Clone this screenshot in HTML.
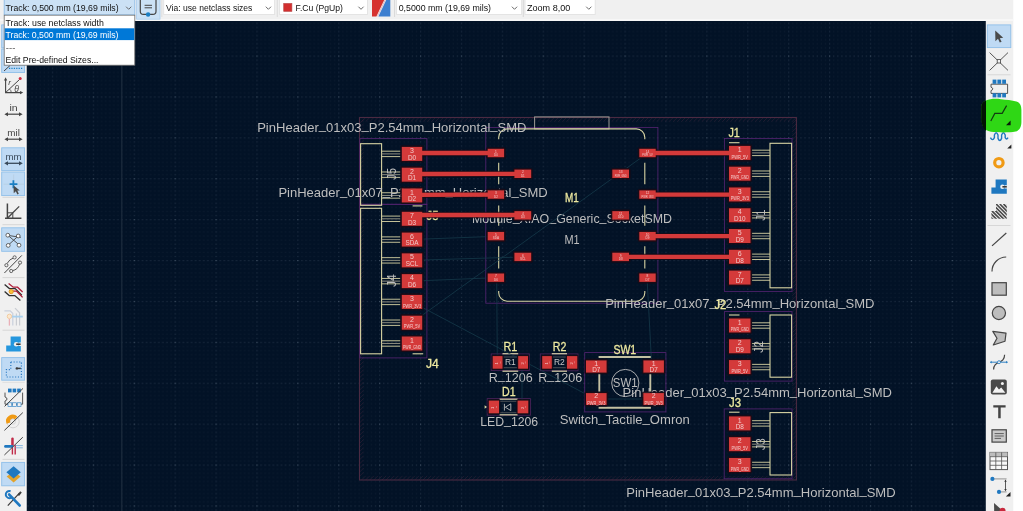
<!DOCTYPE html>
<html lang="en"><head><meta charset="utf-8"><title>PCB Editor</title>
<style>html,body{margin:0;padding:0;background:#fff;overflow:hidden}svg{display:block}text{font-family:"Liberation Sans",sans-serif}</style>
</head><body>
<svg width="1023" height="511" viewBox="0 0 1023 511">
<defs>
<pattern id="grid" x="134.3" y="97" width="40.90" height="40.90" patternUnits="userSpaceOnUse">
<rect x="0.00" y="0.00" width="1.2" height="1.2" fill="#9fb0c4" opacity="0.45"/>
<rect x="0.00" y="4.09" width="1.2" height="1.2" fill="#8a9bb0" opacity="0.2"/>
<rect x="0.00" y="8.18" width="1.2" height="1.2" fill="#8a9bb0" opacity="0.2"/>
<rect x="0.00" y="12.27" width="1.2" height="1.2" fill="#8a9bb0" opacity="0.2"/>
<rect x="0.00" y="16.36" width="1.2" height="1.2" fill="#8a9bb0" opacity="0.2"/>
<rect x="0.00" y="20.45" width="1.2" height="1.2" fill="#8a9bb0" opacity="0.2"/>
<rect x="0.00" y="24.54" width="1.2" height="1.2" fill="#8a9bb0" opacity="0.2"/>
<rect x="0.00" y="28.63" width="1.2" height="1.2" fill="#8a9bb0" opacity="0.2"/>
<rect x="0.00" y="32.72" width="1.2" height="1.2" fill="#8a9bb0" opacity="0.2"/>
<rect x="0.00" y="36.81" width="1.2" height="1.2" fill="#8a9bb0" opacity="0.2"/>
<rect x="4.09" y="0.00" width="1.2" height="1.2" fill="#8a9bb0" opacity="0.2"/>
<rect x="4.09" y="4.09" width="1.2" height="1.2" fill="#7f90a6" opacity="0.075"/>
<rect x="4.09" y="8.18" width="1.2" height="1.2" fill="#7f90a6" opacity="0.075"/>
<rect x="4.09" y="12.27" width="1.2" height="1.2" fill="#7f90a6" opacity="0.075"/>
<rect x="4.09" y="16.36" width="1.2" height="1.2" fill="#7f90a6" opacity="0.075"/>
<rect x="4.09" y="20.45" width="1.2" height="1.2" fill="#7f90a6" opacity="0.075"/>
<rect x="4.09" y="24.54" width="1.2" height="1.2" fill="#7f90a6" opacity="0.075"/>
<rect x="4.09" y="28.63" width="1.2" height="1.2" fill="#7f90a6" opacity="0.075"/>
<rect x="4.09" y="32.72" width="1.2" height="1.2" fill="#7f90a6" opacity="0.075"/>
<rect x="4.09" y="36.81" width="1.2" height="1.2" fill="#7f90a6" opacity="0.075"/>
<rect x="8.18" y="0.00" width="1.2" height="1.2" fill="#8a9bb0" opacity="0.2"/>
<rect x="8.18" y="4.09" width="1.2" height="1.2" fill="#7f90a6" opacity="0.075"/>
<rect x="8.18" y="8.18" width="1.2" height="1.2" fill="#7f90a6" opacity="0.075"/>
<rect x="8.18" y="12.27" width="1.2" height="1.2" fill="#7f90a6" opacity="0.075"/>
<rect x="8.18" y="16.36" width="1.2" height="1.2" fill="#7f90a6" opacity="0.075"/>
<rect x="8.18" y="20.45" width="1.2" height="1.2" fill="#7f90a6" opacity="0.075"/>
<rect x="8.18" y="24.54" width="1.2" height="1.2" fill="#7f90a6" opacity="0.075"/>
<rect x="8.18" y="28.63" width="1.2" height="1.2" fill="#7f90a6" opacity="0.075"/>
<rect x="8.18" y="32.72" width="1.2" height="1.2" fill="#7f90a6" opacity="0.075"/>
<rect x="8.18" y="36.81" width="1.2" height="1.2" fill="#7f90a6" opacity="0.075"/>
<rect x="12.27" y="0.00" width="1.2" height="1.2" fill="#8a9bb0" opacity="0.2"/>
<rect x="12.27" y="4.09" width="1.2" height="1.2" fill="#7f90a6" opacity="0.075"/>
<rect x="12.27" y="8.18" width="1.2" height="1.2" fill="#7f90a6" opacity="0.075"/>
<rect x="12.27" y="12.27" width="1.2" height="1.2" fill="#7f90a6" opacity="0.075"/>
<rect x="12.27" y="16.36" width="1.2" height="1.2" fill="#7f90a6" opacity="0.075"/>
<rect x="12.27" y="20.45" width="1.2" height="1.2" fill="#7f90a6" opacity="0.075"/>
<rect x="12.27" y="24.54" width="1.2" height="1.2" fill="#7f90a6" opacity="0.075"/>
<rect x="12.27" y="28.63" width="1.2" height="1.2" fill="#7f90a6" opacity="0.075"/>
<rect x="12.27" y="32.72" width="1.2" height="1.2" fill="#7f90a6" opacity="0.075"/>
<rect x="12.27" y="36.81" width="1.2" height="1.2" fill="#7f90a6" opacity="0.075"/>
<rect x="16.36" y="0.00" width="1.2" height="1.2" fill="#8a9bb0" opacity="0.2"/>
<rect x="16.36" y="4.09" width="1.2" height="1.2" fill="#7f90a6" opacity="0.075"/>
<rect x="16.36" y="8.18" width="1.2" height="1.2" fill="#7f90a6" opacity="0.075"/>
<rect x="16.36" y="12.27" width="1.2" height="1.2" fill="#7f90a6" opacity="0.075"/>
<rect x="16.36" y="16.36" width="1.2" height="1.2" fill="#7f90a6" opacity="0.075"/>
<rect x="16.36" y="20.45" width="1.2" height="1.2" fill="#7f90a6" opacity="0.075"/>
<rect x="16.36" y="24.54" width="1.2" height="1.2" fill="#7f90a6" opacity="0.075"/>
<rect x="16.36" y="28.63" width="1.2" height="1.2" fill="#7f90a6" opacity="0.075"/>
<rect x="16.36" y="32.72" width="1.2" height="1.2" fill="#7f90a6" opacity="0.075"/>
<rect x="16.36" y="36.81" width="1.2" height="1.2" fill="#7f90a6" opacity="0.075"/>
<rect x="20.45" y="0.00" width="1.2" height="1.2" fill="#8a9bb0" opacity="0.2"/>
<rect x="20.45" y="4.09" width="1.2" height="1.2" fill="#7f90a6" opacity="0.075"/>
<rect x="20.45" y="8.18" width="1.2" height="1.2" fill="#7f90a6" opacity="0.075"/>
<rect x="20.45" y="12.27" width="1.2" height="1.2" fill="#7f90a6" opacity="0.075"/>
<rect x="20.45" y="16.36" width="1.2" height="1.2" fill="#7f90a6" opacity="0.075"/>
<rect x="20.45" y="20.45" width="1.2" height="1.2" fill="#7f90a6" opacity="0.075"/>
<rect x="20.45" y="24.54" width="1.2" height="1.2" fill="#7f90a6" opacity="0.075"/>
<rect x="20.45" y="28.63" width="1.2" height="1.2" fill="#7f90a6" opacity="0.075"/>
<rect x="20.45" y="32.72" width="1.2" height="1.2" fill="#7f90a6" opacity="0.075"/>
<rect x="20.45" y="36.81" width="1.2" height="1.2" fill="#7f90a6" opacity="0.075"/>
<rect x="24.54" y="0.00" width="1.2" height="1.2" fill="#8a9bb0" opacity="0.2"/>
<rect x="24.54" y="4.09" width="1.2" height="1.2" fill="#7f90a6" opacity="0.075"/>
<rect x="24.54" y="8.18" width="1.2" height="1.2" fill="#7f90a6" opacity="0.075"/>
<rect x="24.54" y="12.27" width="1.2" height="1.2" fill="#7f90a6" opacity="0.075"/>
<rect x="24.54" y="16.36" width="1.2" height="1.2" fill="#7f90a6" opacity="0.075"/>
<rect x="24.54" y="20.45" width="1.2" height="1.2" fill="#7f90a6" opacity="0.075"/>
<rect x="24.54" y="24.54" width="1.2" height="1.2" fill="#7f90a6" opacity="0.075"/>
<rect x="24.54" y="28.63" width="1.2" height="1.2" fill="#7f90a6" opacity="0.075"/>
<rect x="24.54" y="32.72" width="1.2" height="1.2" fill="#7f90a6" opacity="0.075"/>
<rect x="24.54" y="36.81" width="1.2" height="1.2" fill="#7f90a6" opacity="0.075"/>
<rect x="28.63" y="0.00" width="1.2" height="1.2" fill="#8a9bb0" opacity="0.2"/>
<rect x="28.63" y="4.09" width="1.2" height="1.2" fill="#7f90a6" opacity="0.075"/>
<rect x="28.63" y="8.18" width="1.2" height="1.2" fill="#7f90a6" opacity="0.075"/>
<rect x="28.63" y="12.27" width="1.2" height="1.2" fill="#7f90a6" opacity="0.075"/>
<rect x="28.63" y="16.36" width="1.2" height="1.2" fill="#7f90a6" opacity="0.075"/>
<rect x="28.63" y="20.45" width="1.2" height="1.2" fill="#7f90a6" opacity="0.075"/>
<rect x="28.63" y="24.54" width="1.2" height="1.2" fill="#7f90a6" opacity="0.075"/>
<rect x="28.63" y="28.63" width="1.2" height="1.2" fill="#7f90a6" opacity="0.075"/>
<rect x="28.63" y="32.72" width="1.2" height="1.2" fill="#7f90a6" opacity="0.075"/>
<rect x="28.63" y="36.81" width="1.2" height="1.2" fill="#7f90a6" opacity="0.075"/>
<rect x="32.72" y="0.00" width="1.2" height="1.2" fill="#8a9bb0" opacity="0.2"/>
<rect x="32.72" y="4.09" width="1.2" height="1.2" fill="#7f90a6" opacity="0.075"/>
<rect x="32.72" y="8.18" width="1.2" height="1.2" fill="#7f90a6" opacity="0.075"/>
<rect x="32.72" y="12.27" width="1.2" height="1.2" fill="#7f90a6" opacity="0.075"/>
<rect x="32.72" y="16.36" width="1.2" height="1.2" fill="#7f90a6" opacity="0.075"/>
<rect x="32.72" y="20.45" width="1.2" height="1.2" fill="#7f90a6" opacity="0.075"/>
<rect x="32.72" y="24.54" width="1.2" height="1.2" fill="#7f90a6" opacity="0.075"/>
<rect x="32.72" y="28.63" width="1.2" height="1.2" fill="#7f90a6" opacity="0.075"/>
<rect x="32.72" y="32.72" width="1.2" height="1.2" fill="#7f90a6" opacity="0.075"/>
<rect x="32.72" y="36.81" width="1.2" height="1.2" fill="#7f90a6" opacity="0.075"/>
<rect x="36.81" y="0.00" width="1.2" height="1.2" fill="#8a9bb0" opacity="0.2"/>
<rect x="36.81" y="4.09" width="1.2" height="1.2" fill="#7f90a6" opacity="0.075"/>
<rect x="36.81" y="8.18" width="1.2" height="1.2" fill="#7f90a6" opacity="0.075"/>
<rect x="36.81" y="12.27" width="1.2" height="1.2" fill="#7f90a6" opacity="0.075"/>
<rect x="36.81" y="16.36" width="1.2" height="1.2" fill="#7f90a6" opacity="0.075"/>
<rect x="36.81" y="20.45" width="1.2" height="1.2" fill="#7f90a6" opacity="0.075"/>
<rect x="36.81" y="24.54" width="1.2" height="1.2" fill="#7f90a6" opacity="0.075"/>
<rect x="36.81" y="28.63" width="1.2" height="1.2" fill="#7f90a6" opacity="0.075"/>
<rect x="36.81" y="32.72" width="1.2" height="1.2" fill="#7f90a6" opacity="0.075"/>
<rect x="36.81" y="36.81" width="1.2" height="1.2" fill="#7f90a6" opacity="0.075"/>
</pattern>
<mask id="mk" maskUnits="userSpaceOnUse" x="0" y="0" width="1023" height="511"><rect x="0" y="0" width="1023" height="511" fill="#fff"/></mask>
<clipPath id="all"><rect x="0" y="0" width="1023" height="511"/></clipPath>
<clipPath id="cv"><rect x="27" y="21" width="959" height="490"/></clipPath>
</defs>
<rect x="0.00" y="0.00" width="1023.00" height="511.00" fill="#ffffff" />
<rect x="0.00" y="0.00" width="1013.30" height="21.00" fill="#f0f0f0" />
<rect x="0.00" y="19.00" width="1013.30" height="2.00" fill="#f7f7f7" />
<rect x="0.00" y="21.00" width="26.50" height="490.00" fill="#f0f0f0" />
<rect x="985.80" y="21.00" width="27.50" height="490.00" fill="#f0f0f0" />
<rect x="26.50" y="21.00" width="959.30" height="490.00" fill="#021226" />
<rect x="27.1" y="21.6" width="958.7" height="490" fill="url(#grid)" transform="translate(-0.6,-0.6)"/>
<g clip-path="url(#cv)" mask="url(#mk)">
<line x1="121.80" y1="21.00" x2="121.80" y2="511.00" stroke="#1c2b3d" stroke-width="1.3" />
<rect x="359.50" y="117.50" width="436.90" height="362.50" fill="none" stroke="#4b2a42" stroke-width="1.1" />
<path d="M361.5,121.7l4.2,-4.2M361.5,480.0l4.2,-4.2M365.6,121.7l4.2,-4.2M365.6,480.0l4.2,-4.2M369.7,121.7l4.2,-4.2M369.7,480.0l4.2,-4.2M373.8,121.7l4.2,-4.2M373.8,480.0l4.2,-4.2M377.9,121.7l4.2,-4.2M377.9,480.0l4.2,-4.2M382.0,121.7l4.2,-4.2M382.0,480.0l4.2,-4.2M386.1,121.7l4.2,-4.2M386.1,480.0l4.2,-4.2M390.2,121.7l4.2,-4.2M390.2,480.0l4.2,-4.2M394.3,121.7l4.2,-4.2M394.3,480.0l4.2,-4.2M398.4,121.7l4.2,-4.2M398.4,480.0l4.2,-4.2M402.5,121.7l4.2,-4.2M402.5,480.0l4.2,-4.2M406.6,121.7l4.2,-4.2M406.6,480.0l4.2,-4.2M410.7,121.7l4.2,-4.2M410.7,480.0l4.2,-4.2M414.8,121.7l4.2,-4.2M414.8,480.0l4.2,-4.2M418.9,121.7l4.2,-4.2M418.9,480.0l4.2,-4.2M423.0,121.7l4.2,-4.2M423.0,480.0l4.2,-4.2M427.1,121.7l4.2,-4.2M427.1,480.0l4.2,-4.2M431.2,121.7l4.2,-4.2M431.2,480.0l4.2,-4.2M435.3,121.7l4.2,-4.2M435.3,480.0l4.2,-4.2M439.4,121.7l4.2,-4.2M439.4,480.0l4.2,-4.2M443.5,121.7l4.2,-4.2M443.5,480.0l4.2,-4.2M447.6,121.7l4.2,-4.2M447.6,480.0l4.2,-4.2M451.7,121.7l4.2,-4.2M451.7,480.0l4.2,-4.2M455.8,121.7l4.2,-4.2M455.8,480.0l4.2,-4.2M459.9,121.7l4.2,-4.2M459.9,480.0l4.2,-4.2M464.0,121.7l4.2,-4.2M464.0,480.0l4.2,-4.2M468.1,121.7l4.2,-4.2M468.1,480.0l4.2,-4.2M472.2,121.7l4.2,-4.2M472.2,480.0l4.2,-4.2M476.3,121.7l4.2,-4.2M476.3,480.0l4.2,-4.2M480.4,121.7l4.2,-4.2M480.4,480.0l4.2,-4.2M484.5,121.7l4.2,-4.2M484.5,480.0l4.2,-4.2M488.6,121.7l4.2,-4.2M488.6,480.0l4.2,-4.2M492.7,121.7l4.2,-4.2M492.7,480.0l4.2,-4.2M496.8,121.7l4.2,-4.2M496.8,480.0l4.2,-4.2M500.9,121.7l4.2,-4.2M500.9,480.0l4.2,-4.2M505.0,121.7l4.2,-4.2M505.0,480.0l4.2,-4.2M509.1,121.7l4.2,-4.2M509.1,480.0l4.2,-4.2M513.2,121.7l4.2,-4.2M513.2,480.0l4.2,-4.2M517.3,121.7l4.2,-4.2M517.3,480.0l4.2,-4.2M521.4,121.7l4.2,-4.2M521.4,480.0l4.2,-4.2M525.5,121.7l4.2,-4.2M525.5,480.0l4.2,-4.2M529.6,121.7l4.2,-4.2M529.6,480.0l4.2,-4.2M533.7,121.7l4.2,-4.2M533.7,480.0l4.2,-4.2M537.8,121.7l4.2,-4.2M537.8,480.0l4.2,-4.2M541.9,121.7l4.2,-4.2M541.9,480.0l4.2,-4.2M546.0,121.7l4.2,-4.2M546.0,480.0l4.2,-4.2M550.1,121.7l4.2,-4.2M550.1,480.0l4.2,-4.2M554.2,121.7l4.2,-4.2M554.2,480.0l4.2,-4.2M558.3,121.7l4.2,-4.2M558.3,480.0l4.2,-4.2M562.4,121.7l4.2,-4.2M562.4,480.0l4.2,-4.2M566.5,121.7l4.2,-4.2M566.5,480.0l4.2,-4.2M570.6,121.7l4.2,-4.2M570.6,480.0l4.2,-4.2M574.7,121.7l4.2,-4.2M574.7,480.0l4.2,-4.2M578.8,121.7l4.2,-4.2M578.8,480.0l4.2,-4.2M582.9,121.7l4.2,-4.2M582.9,480.0l4.2,-4.2M587.0,121.7l4.2,-4.2M587.0,480.0l4.2,-4.2M591.1,121.7l4.2,-4.2M591.1,480.0l4.2,-4.2M595.2,121.7l4.2,-4.2M595.2,480.0l4.2,-4.2M599.3,121.7l4.2,-4.2M599.3,480.0l4.2,-4.2M603.4,121.7l4.2,-4.2M603.4,480.0l4.2,-4.2M607.5,121.7l4.2,-4.2M607.5,480.0l4.2,-4.2M611.6,121.7l4.2,-4.2M611.6,480.0l4.2,-4.2M615.7,121.7l4.2,-4.2M615.7,480.0l4.2,-4.2M619.8,121.7l4.2,-4.2M619.8,480.0l4.2,-4.2M623.9,121.7l4.2,-4.2M623.9,480.0l4.2,-4.2M628.0,121.7l4.2,-4.2M628.0,480.0l4.2,-4.2M632.1,121.7l4.2,-4.2M632.1,480.0l4.2,-4.2M636.2,121.7l4.2,-4.2M636.2,480.0l4.2,-4.2M640.3,121.7l4.2,-4.2M640.3,480.0l4.2,-4.2M644.4,121.7l4.2,-4.2M644.4,480.0l4.2,-4.2M648.5,121.7l4.2,-4.2M648.5,480.0l4.2,-4.2M652.6,121.7l4.2,-4.2M652.6,480.0l4.2,-4.2M656.7,121.7l4.2,-4.2M656.7,480.0l4.2,-4.2M660.8,121.7l4.2,-4.2M660.8,480.0l4.2,-4.2M664.9,121.7l4.2,-4.2M664.9,480.0l4.2,-4.2M669.0,121.7l4.2,-4.2M669.0,480.0l4.2,-4.2M673.1,121.7l4.2,-4.2M673.1,480.0l4.2,-4.2M677.2,121.7l4.2,-4.2M677.2,480.0l4.2,-4.2M681.3,121.7l4.2,-4.2M681.3,480.0l4.2,-4.2M685.4,121.7l4.2,-4.2M685.4,480.0l4.2,-4.2M689.5,121.7l4.2,-4.2M689.5,480.0l4.2,-4.2M693.6,121.7l4.2,-4.2M693.6,480.0l4.2,-4.2M697.7,121.7l4.2,-4.2M697.7,480.0l4.2,-4.2M701.8,121.7l4.2,-4.2M701.8,480.0l4.2,-4.2M705.9,121.7l4.2,-4.2M705.9,480.0l4.2,-4.2M710.0,121.7l4.2,-4.2M710.0,480.0l4.2,-4.2M714.1,121.7l4.2,-4.2M714.1,480.0l4.2,-4.2M718.2,121.7l4.2,-4.2M718.2,480.0l4.2,-4.2M722.3,121.7l4.2,-4.2M722.3,480.0l4.2,-4.2M726.4,121.7l4.2,-4.2M726.4,480.0l4.2,-4.2M730.5,121.7l4.2,-4.2M730.5,480.0l4.2,-4.2M734.6,121.7l4.2,-4.2M734.6,480.0l4.2,-4.2M738.7,121.7l4.2,-4.2M738.7,480.0l4.2,-4.2M742.8,121.7l4.2,-4.2M742.8,480.0l4.2,-4.2M746.9,121.7l4.2,-4.2M746.9,480.0l4.2,-4.2M751.0,121.7l4.2,-4.2M751.0,480.0l4.2,-4.2M755.1,121.7l4.2,-4.2M755.1,480.0l4.2,-4.2M759.2,121.7l4.2,-4.2M759.2,480.0l4.2,-4.2M763.3,121.7l4.2,-4.2M763.3,480.0l4.2,-4.2M767.4,121.7l4.2,-4.2M767.4,480.0l4.2,-4.2M771.5,121.7l4.2,-4.2M771.5,480.0l4.2,-4.2M775.6,121.7l4.2,-4.2M775.6,480.0l4.2,-4.2M779.7,121.7l4.2,-4.2M779.7,480.0l4.2,-4.2M783.8,121.7l4.2,-4.2M783.8,480.0l4.2,-4.2M787.9,121.7l4.2,-4.2M787.9,480.0l4.2,-4.2M792.0,121.7l4.2,-4.2M792.0,480.0l4.2,-4.2M359.5,123.7l4.2,-4.2M792.2,123.7l4.2,-4.2M359.5,127.8l4.2,-4.2M792.2,127.8l4.2,-4.2M359.5,131.9l4.2,-4.2M792.2,131.9l4.2,-4.2M359.5,136.0l4.2,-4.2M792.2,136.0l4.2,-4.2M359.5,140.1l4.2,-4.2M792.2,140.1l4.2,-4.2M359.5,144.2l4.2,-4.2M792.2,144.2l4.2,-4.2M359.5,148.3l4.2,-4.2M792.2,148.3l4.2,-4.2M359.5,152.4l4.2,-4.2M792.2,152.4l4.2,-4.2M359.5,156.5l4.2,-4.2M792.2,156.5l4.2,-4.2M359.5,160.6l4.2,-4.2M792.2,160.6l4.2,-4.2M359.5,164.7l4.2,-4.2M792.2,164.7l4.2,-4.2M359.5,168.8l4.2,-4.2M792.2,168.8l4.2,-4.2M359.5,172.9l4.2,-4.2M792.2,172.9l4.2,-4.2M359.5,177.0l4.2,-4.2M792.2,177.0l4.2,-4.2M359.5,181.1l4.2,-4.2M792.2,181.1l4.2,-4.2M359.5,185.2l4.2,-4.2M792.2,185.2l4.2,-4.2M359.5,189.3l4.2,-4.2M792.2,189.3l4.2,-4.2M359.5,193.4l4.2,-4.2M792.2,193.4l4.2,-4.2M359.5,197.5l4.2,-4.2M792.2,197.5l4.2,-4.2M359.5,201.6l4.2,-4.2M792.2,201.6l4.2,-4.2M359.5,205.7l4.2,-4.2M792.2,205.7l4.2,-4.2M359.5,209.8l4.2,-4.2M792.2,209.8l4.2,-4.2M359.5,213.9l4.2,-4.2M792.2,213.9l4.2,-4.2M359.5,218.0l4.2,-4.2M792.2,218.0l4.2,-4.2M359.5,222.1l4.2,-4.2M792.2,222.1l4.2,-4.2M359.5,226.2l4.2,-4.2M792.2,226.2l4.2,-4.2M359.5,230.3l4.2,-4.2M792.2,230.3l4.2,-4.2M359.5,234.4l4.2,-4.2M792.2,234.4l4.2,-4.2M359.5,238.5l4.2,-4.2M792.2,238.5l4.2,-4.2M359.5,242.6l4.2,-4.2M792.2,242.6l4.2,-4.2M359.5,246.7l4.2,-4.2M792.2,246.7l4.2,-4.2M359.5,250.8l4.2,-4.2M792.2,250.8l4.2,-4.2M359.5,254.9l4.2,-4.2M792.2,254.9l4.2,-4.2M359.5,259.0l4.2,-4.2M792.2,259.0l4.2,-4.2M359.5,263.1l4.2,-4.2M792.2,263.1l4.2,-4.2M359.5,267.2l4.2,-4.2M792.2,267.2l4.2,-4.2M359.5,271.3l4.2,-4.2M792.2,271.3l4.2,-4.2M359.5,275.4l4.2,-4.2M792.2,275.4l4.2,-4.2M359.5,279.5l4.2,-4.2M792.2,279.5l4.2,-4.2M359.5,283.6l4.2,-4.2M792.2,283.6l4.2,-4.2M359.5,287.7l4.2,-4.2M792.2,287.7l4.2,-4.2M359.5,291.8l4.2,-4.2M792.2,291.8l4.2,-4.2M359.5,295.9l4.2,-4.2M792.2,295.9l4.2,-4.2M359.5,300.0l4.2,-4.2M792.2,300.0l4.2,-4.2M359.5,304.1l4.2,-4.2M792.2,304.1l4.2,-4.2M359.5,308.2l4.2,-4.2M792.2,308.2l4.2,-4.2M359.5,312.3l4.2,-4.2M792.2,312.3l4.2,-4.2M359.5,316.4l4.2,-4.2M792.2,316.4l4.2,-4.2M359.5,320.5l4.2,-4.2M792.2,320.5l4.2,-4.2M359.5,324.6l4.2,-4.2M792.2,324.6l4.2,-4.2M359.5,328.7l4.2,-4.2M792.2,328.7l4.2,-4.2M359.5,332.8l4.2,-4.2M792.2,332.8l4.2,-4.2M359.5,336.9l4.2,-4.2M792.2,336.9l4.2,-4.2M359.5,341.0l4.2,-4.2M792.2,341.0l4.2,-4.2M359.5,345.1l4.2,-4.2M792.2,345.1l4.2,-4.2M359.5,349.2l4.2,-4.2M792.2,349.2l4.2,-4.2M359.5,353.3l4.2,-4.2M792.2,353.3l4.2,-4.2M359.5,357.4l4.2,-4.2M792.2,357.4l4.2,-4.2M359.5,361.5l4.2,-4.2M792.2,361.5l4.2,-4.2M359.5,365.6l4.2,-4.2M792.2,365.6l4.2,-4.2M359.5,369.7l4.2,-4.2M792.2,369.7l4.2,-4.2M359.5,373.8l4.2,-4.2M792.2,373.8l4.2,-4.2M359.5,377.9l4.2,-4.2M792.2,377.9l4.2,-4.2M359.5,382.0l4.2,-4.2M792.2,382.0l4.2,-4.2M359.5,386.1l4.2,-4.2M792.2,386.1l4.2,-4.2M359.5,390.2l4.2,-4.2M792.2,390.2l4.2,-4.2M359.5,394.3l4.2,-4.2M792.2,394.3l4.2,-4.2M359.5,398.4l4.2,-4.2M792.2,398.4l4.2,-4.2M359.5,402.5l4.2,-4.2M792.2,402.5l4.2,-4.2M359.5,406.6l4.2,-4.2M792.2,406.6l4.2,-4.2M359.5,410.7l4.2,-4.2M792.2,410.7l4.2,-4.2M359.5,414.8l4.2,-4.2M792.2,414.8l4.2,-4.2M359.5,418.9l4.2,-4.2M792.2,418.9l4.2,-4.2M359.5,423.0l4.2,-4.2M792.2,423.0l4.2,-4.2M359.5,427.1l4.2,-4.2M792.2,427.1l4.2,-4.2M359.5,431.2l4.2,-4.2M792.2,431.2l4.2,-4.2M359.5,435.3l4.2,-4.2M792.2,435.3l4.2,-4.2M359.5,439.4l4.2,-4.2M792.2,439.4l4.2,-4.2M359.5,443.5l4.2,-4.2M792.2,443.5l4.2,-4.2M359.5,447.6l4.2,-4.2M792.2,447.6l4.2,-4.2M359.5,451.7l4.2,-4.2M792.2,451.7l4.2,-4.2M359.5,455.8l4.2,-4.2M792.2,455.8l4.2,-4.2M359.5,459.9l4.2,-4.2M792.2,459.9l4.2,-4.2M359.5,464.0l4.2,-4.2M792.2,464.0l4.2,-4.2M359.5,468.1l4.2,-4.2M792.2,468.1l4.2,-4.2M359.5,472.2l4.2,-4.2M792.2,472.2l4.2,-4.2M359.5,476.3l4.2,-4.2M792.2,476.3l4.2,-4.2" stroke="#4b2a42" stroke-width="0.7" fill="none" opacity="0.55"/>
<rect x="359.80" y="138.60" width="67.10" height="65.70" fill="none" stroke="#52236f" stroke-width="0.85" />
<rect x="359.80" y="204.30" width="67.10" height="153.60" fill="none" stroke="#52236f" stroke-width="0.85" />
<rect x="485.80" y="127.40" width="172.10" height="175.80" fill="none" stroke="#52236f" stroke-width="0.85" />
<rect x="724.40" y="138.40" width="67.60" height="153.00" fill="none" stroke="#52236f" stroke-width="0.85" />
<rect x="724.40" y="311.60" width="67.60" height="69.50" fill="none" stroke="#52236f" stroke-width="0.85" />
<rect x="724.20" y="408.90" width="67.80" height="69.90" fill="none" stroke="#52236f" stroke-width="0.85" />
<rect x="491.20" y="353.90" width="38.10" height="16.70" fill="none" stroke="#4a2158" stroke-width="0.85" />
<rect x="540.30" y="353.90" width="37.70" height="16.90" fill="none" stroke="#4a2158" stroke-width="0.85" />
<rect x="487.20" y="398.60" width="43.30" height="16.60" fill="none" stroke="#4a2158" stroke-width="0.85" />
<rect x="584.70" y="352.60" width="81.20" height="59.30" fill="none" stroke="#52236f" stroke-width="0.85" />
<rect x="534.60" y="116.90" width="74.40" height="12.00" fill="none" stroke="#9d9a94" stroke-width="1.0" />
<rect x="360.60" y="143.70" width="21.00" height="61.60" fill="none" stroke="#d9d5a4" stroke-width="1.1" />
<line x1="381.60" y1="151.20" x2="400.60" y2="151.20" stroke="#d9d5a4" stroke-width="0.9" />
<line x1="381.60" y1="153.90" x2="400.60" y2="153.90" stroke="#9c9a88" stroke-width="0.9" />
<line x1="381.60" y1="156.60" x2="400.60" y2="156.60" stroke="#d9d5a4" stroke-width="0.9" />
<line x1="381.60" y1="171.98" x2="400.60" y2="171.98" stroke="#d9d5a4" stroke-width="0.9" />
<line x1="381.60" y1="174.68" x2="400.60" y2="174.68" stroke="#9c9a88" stroke-width="0.9" />
<line x1="381.60" y1="177.38" x2="400.60" y2="177.38" stroke="#d9d5a4" stroke-width="0.9" />
<line x1="381.60" y1="192.76" x2="400.60" y2="192.76" stroke="#d9d5a4" stroke-width="0.9" />
<line x1="381.60" y1="195.46" x2="400.60" y2="195.46" stroke="#9c9a88" stroke-width="0.9" />
<line x1="381.60" y1="198.16" x2="400.60" y2="198.16" stroke="#d9d5a4" stroke-width="0.9" />
<rect x="360.60" y="208.30" width="21.00" height="145.50" fill="none" stroke="#d9d5a4" stroke-width="1.1" />
<line x1="381.60" y1="216.10" x2="400.60" y2="216.10" stroke="#d9d5a4" stroke-width="0.9" />
<line x1="381.60" y1="218.80" x2="400.60" y2="218.80" stroke="#9c9a88" stroke-width="0.9" />
<line x1="381.60" y1="221.50" x2="400.60" y2="221.50" stroke="#d9d5a4" stroke-width="0.9" />
<line x1="381.60" y1="236.88" x2="400.60" y2="236.88" stroke="#d9d5a4" stroke-width="0.9" />
<line x1="381.60" y1="239.58" x2="400.60" y2="239.58" stroke="#9c9a88" stroke-width="0.9" />
<line x1="381.60" y1="242.28" x2="400.60" y2="242.28" stroke="#d9d5a4" stroke-width="0.9" />
<line x1="381.60" y1="257.66" x2="400.60" y2="257.66" stroke="#d9d5a4" stroke-width="0.9" />
<line x1="381.60" y1="260.36" x2="400.60" y2="260.36" stroke="#9c9a88" stroke-width="0.9" />
<line x1="381.60" y1="263.06" x2="400.60" y2="263.06" stroke="#d9d5a4" stroke-width="0.9" />
<line x1="381.60" y1="278.44" x2="400.60" y2="278.44" stroke="#d9d5a4" stroke-width="0.9" />
<line x1="381.60" y1="281.14" x2="400.60" y2="281.14" stroke="#9c9a88" stroke-width="0.9" />
<line x1="381.60" y1="283.84" x2="400.60" y2="283.84" stroke="#d9d5a4" stroke-width="0.9" />
<line x1="381.60" y1="299.22" x2="400.60" y2="299.22" stroke="#d9d5a4" stroke-width="0.9" />
<line x1="381.60" y1="301.92" x2="400.60" y2="301.92" stroke="#9c9a88" stroke-width="0.9" />
<line x1="381.60" y1="304.62" x2="400.60" y2="304.62" stroke="#d9d5a4" stroke-width="0.9" />
<line x1="381.60" y1="320.00" x2="400.60" y2="320.00" stroke="#d9d5a4" stroke-width="0.9" />
<line x1="381.60" y1="322.70" x2="400.60" y2="322.70" stroke="#9c9a88" stroke-width="0.9" />
<line x1="381.60" y1="325.40" x2="400.60" y2="325.40" stroke="#d9d5a4" stroke-width="0.9" />
<line x1="381.60" y1="340.78" x2="400.60" y2="340.78" stroke="#d9d5a4" stroke-width="0.9" />
<line x1="381.60" y1="343.48" x2="400.60" y2="343.48" stroke="#9c9a88" stroke-width="0.9" />
<line x1="381.60" y1="346.18" x2="400.60" y2="346.18" stroke="#d9d5a4" stroke-width="0.9" />
<line x1="412.60" y1="205.90" x2="422.40" y2="205.90" stroke="#d9d5a4" stroke-width="1.1" />
<line x1="412.60" y1="353.80" x2="423.20" y2="353.80" stroke="#d9d5a4" stroke-width="1.1" />
<rect x="770.00" y="143.30" width="21.60" height="144.50" fill="none" stroke="#d9d5a4" stroke-width="1.1" />
<line x1="751.70" y1="150.20" x2="770.00" y2="150.20" stroke="#d9d5a4" stroke-width="0.9" />
<line x1="751.70" y1="152.90" x2="770.00" y2="152.90" stroke="#9c9a88" stroke-width="0.9" />
<line x1="751.70" y1="155.60" x2="770.00" y2="155.60" stroke="#d9d5a4" stroke-width="0.9" />
<line x1="751.70" y1="170.98" x2="770.00" y2="170.98" stroke="#d9d5a4" stroke-width="0.9" />
<line x1="751.70" y1="173.68" x2="770.00" y2="173.68" stroke="#9c9a88" stroke-width="0.9" />
<line x1="751.70" y1="176.38" x2="770.00" y2="176.38" stroke="#d9d5a4" stroke-width="0.9" />
<line x1="751.70" y1="191.76" x2="770.00" y2="191.76" stroke="#d9d5a4" stroke-width="0.9" />
<line x1="751.70" y1="194.46" x2="770.00" y2="194.46" stroke="#9c9a88" stroke-width="0.9" />
<line x1="751.70" y1="197.16" x2="770.00" y2="197.16" stroke="#d9d5a4" stroke-width="0.9" />
<line x1="751.70" y1="212.54" x2="770.00" y2="212.54" stroke="#d9d5a4" stroke-width="0.9" />
<line x1="751.70" y1="215.24" x2="770.00" y2="215.24" stroke="#9c9a88" stroke-width="0.9" />
<line x1="751.70" y1="217.94" x2="770.00" y2="217.94" stroke="#d9d5a4" stroke-width="0.9" />
<line x1="751.70" y1="233.32" x2="770.00" y2="233.32" stroke="#d9d5a4" stroke-width="0.9" />
<line x1="751.70" y1="236.02" x2="770.00" y2="236.02" stroke="#9c9a88" stroke-width="0.9" />
<line x1="751.70" y1="238.72" x2="770.00" y2="238.72" stroke="#d9d5a4" stroke-width="0.9" />
<line x1="751.70" y1="254.10" x2="770.00" y2="254.10" stroke="#d9d5a4" stroke-width="0.9" />
<line x1="751.70" y1="256.80" x2="770.00" y2="256.80" stroke="#9c9a88" stroke-width="0.9" />
<line x1="751.70" y1="259.50" x2="770.00" y2="259.50" stroke="#d9d5a4" stroke-width="0.9" />
<line x1="751.70" y1="274.88" x2="770.00" y2="274.88" stroke="#d9d5a4" stroke-width="0.9" />
<line x1="751.70" y1="277.58" x2="770.00" y2="277.58" stroke="#9c9a88" stroke-width="0.9" />
<line x1="751.70" y1="280.28" x2="770.00" y2="280.28" stroke="#d9d5a4" stroke-width="0.9" />
<rect x="770.00" y="315.00" width="21.60" height="62.20" fill="none" stroke="#d9d5a4" stroke-width="1.1" />
<line x1="751.70" y1="322.80" x2="770.00" y2="322.80" stroke="#d9d5a4" stroke-width="0.9" />
<line x1="751.70" y1="325.50" x2="770.00" y2="325.50" stroke="#9c9a88" stroke-width="0.9" />
<line x1="751.70" y1="328.20" x2="770.00" y2="328.20" stroke="#d9d5a4" stroke-width="0.9" />
<line x1="751.70" y1="343.58" x2="770.00" y2="343.58" stroke="#d9d5a4" stroke-width="0.9" />
<line x1="751.70" y1="346.28" x2="770.00" y2="346.28" stroke="#9c9a88" stroke-width="0.9" />
<line x1="751.70" y1="348.98" x2="770.00" y2="348.98" stroke="#d9d5a4" stroke-width="0.9" />
<line x1="751.70" y1="364.36" x2="770.00" y2="364.36" stroke="#d9d5a4" stroke-width="0.9" />
<line x1="751.70" y1="367.06" x2="770.00" y2="367.06" stroke="#9c9a88" stroke-width="0.9" />
<line x1="751.70" y1="369.76" x2="770.00" y2="369.76" stroke="#d9d5a4" stroke-width="0.9" />
<rect x="770.00" y="412.60" width="21.60" height="62.40" fill="none" stroke="#d9d5a4" stroke-width="1.1" />
<line x1="751.70" y1="420.70" x2="770.00" y2="420.70" stroke="#d9d5a4" stroke-width="0.9" />
<line x1="751.70" y1="423.40" x2="770.00" y2="423.40" stroke="#9c9a88" stroke-width="0.9" />
<line x1="751.70" y1="426.10" x2="770.00" y2="426.10" stroke="#d9d5a4" stroke-width="0.9" />
<line x1="751.70" y1="441.48" x2="770.00" y2="441.48" stroke="#d9d5a4" stroke-width="0.9" />
<line x1="751.70" y1="444.18" x2="770.00" y2="444.18" stroke="#9c9a88" stroke-width="0.9" />
<line x1="751.70" y1="446.88" x2="770.00" y2="446.88" stroke="#d9d5a4" stroke-width="0.9" />
<line x1="751.70" y1="462.26" x2="770.00" y2="462.26" stroke="#d9d5a4" stroke-width="0.9" />
<line x1="751.70" y1="464.96" x2="770.00" y2="464.96" stroke="#9c9a88" stroke-width="0.9" />
<line x1="751.70" y1="467.66" x2="770.00" y2="467.66" stroke="#d9d5a4" stroke-width="0.9" />
<line x1="729.00" y1="142.70" x2="739.50" y2="142.70" stroke="#d9d5a4" stroke-width="1.1" />
<line x1="729.00" y1="315.00" x2="739.50" y2="315.00" stroke="#d9d5a4" stroke-width="1.1" />
<line x1="729.00" y1="412.20" x2="739.50" y2="412.20" stroke="#d9d5a4" stroke-width="1.1" />
<path d="M498.7,139.20000000000002 V137.4 A8.5,8.5 0 0 1 507.2,128.9 H636.3 A8.5,8.5 0 0 1 644.8,137.4 V139.20000000000002" fill="none" stroke="#d9d5a4" stroke-width="1.1"/>
<path d="M498.7,290.9 V292.7 A8.5,8.5 0 0 0 507.2,301.2 H636.3 A8.5,8.5 0 0 0 644.8,292.7 V290.9" fill="none" stroke="#d9d5a4" stroke-width="1.1"/>
<line x1="498.70" y1="162.70" x2="498.70" y2="184.30" stroke="#d9d5a4" stroke-width="1.1" />
<line x1="644.80" y1="162.70" x2="644.80" y2="184.30" stroke="#d9d5a4" stroke-width="1.1" />
<line x1="498.70" y1="205.40" x2="498.70" y2="225.80" stroke="#d9d5a4" stroke-width="1.1" />
<line x1="644.80" y1="205.40" x2="644.80" y2="225.80" stroke="#d9d5a4" stroke-width="1.1" />
<line x1="498.70" y1="246.30" x2="498.70" y2="268.60" stroke="#d9d5a4" stroke-width="1.1" />
<line x1="644.80" y1="246.30" x2="644.80" y2="268.60" stroke="#d9d5a4" stroke-width="1.1" />
<line x1="502.50" y1="353.70" x2="518.20" y2="353.70" stroke="#c9c5a0" stroke-width="1.3" />
<line x1="502.50" y1="371.20" x2="518.20" y2="371.20" stroke="#c9c5a0" stroke-width="1.3" />
<rect x="502.70" y="357.00" width="15.30" height="10.80" fill="none" stroke="#6a6a6a" stroke-width="0.7" />
<text x="510.40" y="365.00" font-size="9.0" fill="#c6c6c6" text-anchor="middle" textLength="10.80" lengthAdjust="spacingAndGlyphs" >R1</text>
<line x1="551.80" y1="353.70" x2="567.00" y2="353.70" stroke="#c9c5a0" stroke-width="1.3" />
<line x1="551.80" y1="371.20" x2="567.00" y2="371.20" stroke="#c9c5a0" stroke-width="1.3" />
<rect x="552.00" y="357.00" width="14.80" height="10.80" fill="none" stroke="#6a6a6a" stroke-width="0.7" />
<text x="559.40" y="365.00" font-size="9.0" fill="#c6c6c6" text-anchor="middle" textLength="10.80" lengthAdjust="spacingAndGlyphs" >R2</text>
<line x1="499.60" y1="399.20" x2="517.60" y2="399.20" stroke="#c9c5a0" stroke-width="1.3" />
<line x1="499.60" y1="414.80" x2="517.60" y2="414.80" stroke="#c9c5a0" stroke-width="1.3" />
<rect x="499.40" y="401.20" width="18.00" height="11.60" fill="none" stroke="#6a6a6a" stroke-width="0.7" />
<path d="M504.4,403.8V410.6M510.8,403.8V410.6L505.3,407.2Z" fill="none" stroke="#bebebe" stroke-width="0.9" stroke-linejoin="round"/>
<path d="M484.6,405.2L487.0,407L484.6,408.8Z" fill="#d9d5a4"/>
<line x1="598.60" y1="357.00" x2="650.90" y2="357.00" stroke="#c4c0a2" stroke-width="2.0" />
<line x1="598.60" y1="407.80" x2="650.90" y2="407.80" stroke="#c4c0a2" stroke-width="2.0" />
<line x1="599.30" y1="373.40" x2="599.30" y2="391.90" stroke="#c4c0a2" stroke-width="1.9" />
<line x1="650.30" y1="373.40" x2="650.30" y2="391.90" stroke="#c4c0a2" stroke-width="1.9" />
<circle cx="625.3" cy="383" r="13.6" fill="none" stroke="#bebebe" stroke-width="0.9"/>
<text x="257.20" y="131.60" font-size="12.2" fill="#bebebe" text-anchor="start" textLength="269.30" lengthAdjust="spacingAndGlyphs" >PinHeader<tspan dy="-2.3">_</tspan><tspan dy="2.3">01x03</tspan><tspan dy="-2.3">_</tspan><tspan dy="2.3">P2.54mm</tspan><tspan dy="-2.3">_</tspan><tspan dy="2.3">Horizontal</tspan><tspan dy="-2.3">_</tspan><tspan dy="2.3">SMD</tspan></text>
<text x="278.40" y="196.80" font-size="12.2" fill="#bebebe" text-anchor="start" textLength="269.30" lengthAdjust="spacingAndGlyphs" >PinHeader<tspan dy="-2.3">_</tspan><tspan dy="2.3">01x07</tspan><tspan dy="-2.3">_</tspan><tspan dy="2.3">P2.54mm</tspan><tspan dy="-2.3">_</tspan><tspan dy="2.3">Horizontal</tspan><tspan dy="-2.3">_</tspan><tspan dy="2.3">SMD</tspan></text>
<text x="605.20" y="308.20" font-size="12.2" fill="#bebebe" text-anchor="start" textLength="269.30" lengthAdjust="spacingAndGlyphs" >PinHeader<tspan dy="-2.3">_</tspan><tspan dy="2.3">01x07</tspan><tspan dy="-2.3">_</tspan><tspan dy="2.3">P2.54mm</tspan><tspan dy="-2.3">_</tspan><tspan dy="2.3">Horizontal</tspan><tspan dy="-2.3">_</tspan><tspan dy="2.3">SMD</tspan></text>
<text x="622.60" y="397.30" font-size="12.2" fill="#bebebe" text-anchor="start" textLength="269.30" lengthAdjust="spacingAndGlyphs" >PinHeader<tspan dy="-2.3">_</tspan><tspan dy="2.3">01x03</tspan><tspan dy="-2.3">_</tspan><tspan dy="2.3">P2.54mm</tspan><tspan dy="-2.3">_</tspan><tspan dy="2.3">Horizontal</tspan><tspan dy="-2.3">_</tspan><tspan dy="2.3">SMD</tspan></text>
<text x="626.30" y="496.50" font-size="12.2" fill="#bebebe" text-anchor="start" textLength="269.30" lengthAdjust="spacingAndGlyphs" >PinHeader<tspan dy="-2.3">_</tspan><tspan dy="2.3">01x03</tspan><tspan dy="-2.3">_</tspan><tspan dy="2.3">P2.54mm</tspan><tspan dy="-2.3">_</tspan><tspan dy="2.3">Horizontal</tspan><tspan dy="-2.3">_</tspan><tspan dy="2.3">SMD</tspan></text>
<text x="472.00" y="222.90" font-size="12.2" fill="#bebebe" text-anchor="start" textLength="200.00" lengthAdjust="spacingAndGlyphs" >Module<tspan dy="-2.3">_</tspan><tspan dy="2.3">XIAO</tspan><tspan dy="-2.3">_</tspan><tspan dy="2.3">Generic</tspan><tspan dy="-2.3">_</tspan><tspan dy="2.3">SocketSMD</tspan></text>
<text x="564.40" y="244.10" font-size="12.2" fill="#bebebe" text-anchor="start" textLength="15.20" lengthAdjust="spacingAndGlyphs" >M1</text>
<text x="488.80" y="381.60" font-size="12.2" fill="#bebebe" text-anchor="start" textLength="44.00" lengthAdjust="spacingAndGlyphs" >R<tspan dy="-2.3">_</tspan><tspan dy="2.3">1206</tspan></text>
<text x="538.20" y="381.60" font-size="12.2" fill="#bebebe" text-anchor="start" textLength="44.00" lengthAdjust="spacingAndGlyphs" >R<tspan dy="-2.3">_</tspan><tspan dy="2.3">1206</tspan></text>
<text x="480.20" y="426.20" font-size="12.2" fill="#bebebe" text-anchor="start" textLength="58.00" lengthAdjust="spacingAndGlyphs" >LED<tspan dy="-2.3">_</tspan><tspan dy="2.3">1206</tspan></text>
<text x="559.80" y="424.00" font-size="12.2" fill="#bebebe" text-anchor="start" textLength="130.00" lengthAdjust="spacingAndGlyphs" >Switch<tspan dy="-2.3">_</tspan><tspan dy="2.3">Tactile</tspan><tspan dy="-2.3">_</tspan><tspan dy="2.3">Omron</tspan></text>
<text x="612.80" y="387.00" font-size="12.2" fill="#bebebe" text-anchor="start" textLength="24.80" lengthAdjust="spacingAndGlyphs" >SW1</text>
<text x="565.00" y="202.00" font-size="12.2" fill="#eee9a0" text-anchor="start" textLength="13.80" lengthAdjust="spacingAndGlyphs"  stroke="#eee9a0" stroke-width="0.28">M1</text>
<text x="426.60" y="220.10" font-size="12.2" fill="#eee9a0" text-anchor="start" textLength="12.00" lengthAdjust="spacingAndGlyphs"  stroke="#eee9a0" stroke-width="0.28">J5</text>
<text x="426.00" y="367.80" font-size="12.2" fill="#eee9a0" text-anchor="start" textLength="12.80" lengthAdjust="spacingAndGlyphs"  stroke="#eee9a0" stroke-width="0.28">J4</text>
<text x="728.40" y="136.50" font-size="12.2" fill="#eee9a0" text-anchor="start" textLength="11.40" lengthAdjust="spacingAndGlyphs"  stroke="#eee9a0" stroke-width="0.28">J1</text>
<text x="714.40" y="308.60" font-size="12.2" fill="#eee9a0" text-anchor="start" textLength="12.00" lengthAdjust="spacingAndGlyphs"  stroke="#eee9a0" stroke-width="0.28">J2</text>
<text x="729.00" y="406.90" font-size="12.2" fill="#eee9a0" text-anchor="start" textLength="12.00" lengthAdjust="spacingAndGlyphs"  stroke="#eee9a0" stroke-width="0.28">J3</text>
<text x="503.40" y="351.00" font-size="12.2" fill="#eee9a0" text-anchor="start" textLength="13.80" lengthAdjust="spacingAndGlyphs"  stroke="#eee9a0" stroke-width="0.28">R1</text>
<text x="552.80" y="351.00" font-size="12.2" fill="#eee9a0" text-anchor="start" textLength="13.60" lengthAdjust="spacingAndGlyphs"  stroke="#eee9a0" stroke-width="0.28">R2</text>
<text x="502.00" y="396.10" font-size="12.2" fill="#eee9a0" text-anchor="start" textLength="13.60" lengthAdjust="spacingAndGlyphs"  stroke="#eee9a0" stroke-width="0.28">D1</text>
<text x="613.40" y="354.10" font-size="12.2" fill="#eee9a0" text-anchor="start" textLength="22.80" lengthAdjust="spacingAndGlyphs"  stroke="#eee9a0" stroke-width="0.28">SW1</text>
<text x="0.00" y="0.00" font-size="12.2" fill="#bebebe" text-anchor="middle" textLength="12.00" lengthAdjust="spacingAndGlyphs" transform="translate(395.6,174.0) rotate(-90)">J5</text>
<text x="0.00" y="0.00" font-size="12.2" fill="#bebebe" text-anchor="middle" textLength="12.80" lengthAdjust="spacingAndGlyphs" transform="translate(395.6,280.6) rotate(-90)">J4</text>
<text x="0.00" y="0.00" font-size="12.2" fill="#bebebe" text-anchor="middle" textLength="11.20" lengthAdjust="spacingAndGlyphs" transform="translate(764.6,215.2) rotate(-90)">J1</text>
<text x="0.00" y="0.00" font-size="12.2" fill="#bebebe" text-anchor="middle" textLength="12.00" lengthAdjust="spacingAndGlyphs" transform="translate(763.4,346.9) rotate(-90)">J2</text>
<text x="0.00" y="0.00" font-size="12.2" fill="#bebebe" text-anchor="middle" textLength="12.00" lengthAdjust="spacingAndGlyphs" transform="translate(764.6,444.3) rotate(-90)">J3</text>
<line x1="412.00" y1="239.50" x2="496.00" y2="236.30" stroke="#173c4c" stroke-width="0.75" />
<line x1="412.00" y1="260.30" x2="523.00" y2="257.00" stroke="#173c4c" stroke-width="0.75" />
<line x1="412.00" y1="281.10" x2="496.00" y2="277.70" stroke="#173c4c" stroke-width="0.75" />
<line x1="412.00" y1="322.60" x2="647.00" y2="153.50" stroke="#173c4c" stroke-width="0.75" />
<line x1="412.00" y1="301.90" x2="596.00" y2="399.50" stroke="#173c4c" stroke-width="0.75" />
<line x1="496.70" y1="277.70" x2="497.30" y2="362.00" stroke="#173c4c" stroke-width="0.75" />
<line x1="522.00" y1="369.00" x2="522.00" y2="401.00" stroke="#173c4c" stroke-width="0.75" />
<line x1="647.00" y1="277.70" x2="651.80" y2="367.00" stroke="#173c4c" stroke-width="0.75" />
<line x1="596.00" y1="399.00" x2="653.00" y2="399.00" stroke="#173c4c" stroke-width="0.75" />
<path d="M412.0,153.0 L496.0,153.0" stroke="#1c0b16" stroke-width="6.3" fill="none" stroke-linecap="round" stroke-linejoin="round" opacity="0.8"/>
<path d="M412.0,174.0 L523.0,173.9" stroke="#1c0b16" stroke-width="6.3" fill="none" stroke-linecap="round" stroke-linejoin="round" opacity="0.8"/>
<path d="M412.0,194.8 L496.0,194.7" stroke="#1c0b16" stroke-width="6.3" fill="none" stroke-linecap="round" stroke-linejoin="round" opacity="0.8"/>
<path d="M412.0,218.4 L415.5,215.0 L523.0,215.0" stroke="#1c0b16" stroke-width="6.3" fill="none" stroke-linecap="round" stroke-linejoin="round" opacity="0.8"/>
<path d="M647.0,153.0 L740.0,153.0" stroke="#1c0b16" stroke-width="6.3" fill="none" stroke-linecap="round" stroke-linejoin="round" opacity="0.8"/>
<path d="M647.0,194.6 L740.0,194.6" stroke="#1c0b16" stroke-width="6.3" fill="none" stroke-linecap="round" stroke-linejoin="round" opacity="0.8"/>
<path d="M647.0,236.1 L740.0,236.1" stroke="#1c0b16" stroke-width="6.3" fill="none" stroke-linecap="round" stroke-linejoin="round" opacity="0.8"/>
<path d="M621.0,256.9 L740.0,256.9" stroke="#1c0b16" stroke-width="6.3" fill="none" stroke-linecap="round" stroke-linejoin="round" opacity="0.8"/>
<rect x="400.20" y="145.30" width="23.60" height="17.20" rx="2" fill="#1c0b16" opacity="0.9"/>
<rect x="400.20" y="166.08" width="23.60" height="17.20" rx="2" fill="#1c0b16" opacity="0.9"/>
<rect x="400.20" y="186.86" width="23.60" height="17.20" rx="2" fill="#1c0b16" opacity="0.9"/>
<rect x="400.20" y="210.20" width="23.60" height="17.20" rx="2" fill="#1c0b16" opacity="0.9"/>
<rect x="400.20" y="230.98" width="23.60" height="17.20" rx="2" fill="#1c0b16" opacity="0.9"/>
<rect x="400.20" y="251.76" width="23.60" height="17.20" rx="2" fill="#1c0b16" opacity="0.9"/>
<rect x="400.20" y="272.54" width="23.60" height="17.20" rx="2" fill="#1c0b16" opacity="0.9"/>
<rect x="400.20" y="293.32" width="23.60" height="17.20" rx="2" fill="#1c0b16" opacity="0.9"/>
<rect x="400.20" y="314.10" width="23.60" height="17.20" rx="2" fill="#1c0b16" opacity="0.9"/>
<rect x="400.20" y="334.88" width="23.60" height="17.20" rx="2" fill="#1c0b16" opacity="0.9"/>
<rect x="727.40" y="144.30" width="24.70" height="17.20" rx="2" fill="#1c0b16" opacity="0.9"/>
<rect x="727.40" y="165.08" width="24.70" height="17.20" rx="2" fill="#1c0b16" opacity="0.9"/>
<rect x="727.40" y="185.86" width="24.70" height="17.20" rx="2" fill="#1c0b16" opacity="0.9"/>
<rect x="727.40" y="206.64" width="24.70" height="17.20" rx="2" fill="#1c0b16" opacity="0.9"/>
<rect x="727.40" y="227.42" width="24.70" height="17.20" rx="2" fill="#1c0b16" opacity="0.9"/>
<rect x="727.40" y="248.20" width="24.70" height="17.20" rx="2" fill="#1c0b16" opacity="0.9"/>
<rect x="727.40" y="268.98" width="24.70" height="17.20" rx="2" fill="#1c0b16" opacity="0.9"/>
<rect x="727.40" y="316.90" width="24.70" height="17.20" rx="2" fill="#1c0b16" opacity="0.9"/>
<rect x="727.40" y="337.68" width="24.70" height="17.20" rx="2" fill="#1c0b16" opacity="0.9"/>
<rect x="727.40" y="358.46" width="24.70" height="17.20" rx="2" fill="#1c0b16" opacity="0.9"/>
<rect x="727.40" y="414.80" width="24.70" height="17.20" rx="2" fill="#1c0b16" opacity="0.9"/>
<rect x="727.40" y="435.58" width="24.70" height="17.20" rx="2" fill="#1c0b16" opacity="0.9"/>
<rect x="727.40" y="456.36" width="24.70" height="17.20" rx="2" fill="#1c0b16" opacity="0.9"/>
<rect x="486.10" y="147.20" width="19.60" height="11.60" rx="2" fill="#1c0b16" opacity="0.9"/>
<rect x="512.80" y="167.98" width="20.00" height="11.60" rx="2" fill="#1c0b16" opacity="0.9"/>
<rect x="486.10" y="188.76" width="19.60" height="11.60" rx="2" fill="#1c0b16" opacity="0.9"/>
<rect x="512.80" y="209.54" width="20.00" height="11.60" rx="2" fill="#1c0b16" opacity="0.9"/>
<rect x="486.10" y="230.32" width="19.60" height="11.60" rx="2" fill="#1c0b16" opacity="0.9"/>
<rect x="512.80" y="251.10" width="20.00" height="11.60" rx="2" fill="#1c0b16" opacity="0.9"/>
<rect x="486.10" y="271.88" width="19.60" height="11.60" rx="2" fill="#1c0b16" opacity="0.9"/>
<rect x="637.70" y="147.20" width="19.60" height="11.60" rx="2" fill="#1c0b16" opacity="0.9"/>
<rect x="610.70" y="167.98" width="19.90" height="11.60" rx="2" fill="#1c0b16" opacity="0.9"/>
<rect x="637.70" y="188.76" width="19.60" height="11.60" rx="2" fill="#1c0b16" opacity="0.9"/>
<rect x="610.70" y="209.54" width="19.90" height="11.60" rx="2" fill="#1c0b16" opacity="0.9"/>
<rect x="637.70" y="230.32" width="19.60" height="11.60" rx="2" fill="#1c0b16" opacity="0.9"/>
<rect x="610.70" y="251.10" width="19.90" height="11.60" rx="2" fill="#1c0b16" opacity="0.9"/>
<rect x="637.70" y="271.88" width="19.60" height="11.60" rx="2" fill="#1c0b16" opacity="0.9"/>
<rect x="491.40" y="354.80" width="12.40" height="15.20" rx="2" fill="#1c0b16" opacity="0.9"/>
<rect x="516.90" y="354.80" width="12.40" height="15.20" rx="2" fill="#1c0b16" opacity="0.9"/>
<rect x="540.90" y="354.80" width="12.20" height="15.20" rx="2" fill="#1c0b16" opacity="0.9"/>
<rect x="565.70" y="354.80" width="12.90" height="15.20" rx="2" fill="#1c0b16" opacity="0.9"/>
<rect x="487.50" y="399.30" width="12.80" height="15.30" rx="2" fill="#1c0b16" opacity="0.9"/>
<rect x="516.30" y="399.30" width="13.30" height="15.30" rx="2" fill="#1c0b16" opacity="0.9"/>
<rect x="584.40" y="358.80" width="23.80" height="15.40" rx="2" fill="#1c0b16" opacity="0.9"/>
<rect x="584.40" y="391.50" width="23.80" height="15.00" rx="2" fill="#1c0b16" opacity="0.9"/>
<rect x="641.80" y="358.80" width="23.70" height="15.40" rx="2" fill="#1c0b16" opacity="0.9"/>
<rect x="641.80" y="391.50" width="23.70" height="15.00" rx="2" fill="#1c0b16" opacity="0.9"/>
<path d="M412.0,153.0 L496.0,153.0" stroke="#d43a3a" stroke-width="4.3" fill="none" stroke-linecap="round" stroke-linejoin="round"/>
<path d="M412.0,174.0 L523.0,173.9" stroke="#d43a3a" stroke-width="4.3" fill="none" stroke-linecap="round" stroke-linejoin="round"/>
<path d="M412.0,194.8 L496.0,194.7" stroke="#d43a3a" stroke-width="4.3" fill="none" stroke-linecap="round" stroke-linejoin="round"/>
<path d="M412.0,218.4 L415.5,215.0 L523.0,215.0" stroke="#d43a3a" stroke-width="4.3" fill="none" stroke-linecap="round" stroke-linejoin="round"/>
<path d="M647.0,153.0 L740.0,153.0" stroke="#d43a3a" stroke-width="4.3" fill="none" stroke-linecap="round" stroke-linejoin="round"/>
<path d="M647.0,194.6 L740.0,194.6" stroke="#d43a3a" stroke-width="4.3" fill="none" stroke-linecap="round" stroke-linejoin="round"/>
<path d="M647.0,236.1 L740.0,236.1" stroke="#d43a3a" stroke-width="4.3" fill="none" stroke-linecap="round" stroke-linejoin="round"/>
<path d="M621.0,256.9 L740.0,256.9" stroke="#d43a3a" stroke-width="4.3" fill="none" stroke-linecap="round" stroke-linejoin="round"/>
<rect x="401.80" y="146.90" width="20.40" height="14.00" fill="#d43a3a" />
<rect x="401.80" y="167.68" width="20.40" height="14.00" fill="#d43a3a" />
<rect x="401.80" y="188.46" width="20.40" height="14.00" fill="#d43a3a" />
<rect x="401.80" y="211.80" width="20.40" height="14.00" fill="#d43a3a" />
<rect x="401.80" y="232.58" width="20.40" height="14.00" fill="#d43a3a" />
<rect x="401.80" y="253.36" width="20.40" height="14.00" fill="#d43a3a" />
<rect x="401.80" y="274.14" width="20.40" height="14.00" fill="#d43a3a" />
<rect x="401.80" y="294.92" width="20.40" height="14.00" fill="#d43a3a" />
<rect x="401.80" y="315.70" width="20.40" height="14.00" fill="#d43a3a" />
<rect x="401.80" y="336.48" width="20.40" height="14.00" fill="#d43a3a" />
<rect x="729.00" y="145.90" width="21.50" height="14.00" fill="#d43a3a" />
<rect x="729.00" y="166.68" width="21.50" height="14.00" fill="#d43a3a" />
<rect x="729.00" y="187.46" width="21.50" height="14.00" fill="#d43a3a" />
<rect x="729.00" y="208.24" width="21.50" height="14.00" fill="#d43a3a" />
<rect x="729.00" y="229.02" width="21.50" height="14.00" fill="#d43a3a" />
<rect x="729.00" y="249.80" width="21.50" height="14.00" fill="#d43a3a" />
<rect x="729.00" y="270.58" width="21.50" height="14.00" fill="#d43a3a" />
<rect x="729.00" y="318.50" width="21.50" height="14.00" fill="#d43a3a" />
<rect x="729.00" y="339.28" width="21.50" height="14.00" fill="#d43a3a" />
<rect x="729.00" y="360.06" width="21.50" height="14.00" fill="#d43a3a" />
<rect x="729.00" y="416.40" width="21.50" height="14.00" fill="#d43a3a" />
<rect x="729.00" y="437.18" width="21.50" height="14.00" fill="#d43a3a" />
<rect x="729.00" y="457.96" width="21.50" height="14.00" fill="#d43a3a" />
<rect x="487.70" y="148.80" width="16.40" height="8.40" fill="#d43a3a" />
<rect x="514.40" y="169.58" width="16.80" height="8.40" fill="#d43a3a" />
<rect x="487.70" y="190.36" width="16.40" height="8.40" fill="#d43a3a" />
<rect x="514.40" y="211.14" width="16.80" height="8.40" fill="#d43a3a" />
<rect x="487.70" y="231.92" width="16.40" height="8.40" fill="#d43a3a" />
<rect x="514.40" y="252.70" width="16.80" height="8.40" fill="#d43a3a" />
<rect x="487.70" y="273.48" width="16.40" height="8.40" fill="#d43a3a" />
<rect x="639.30" y="148.80" width="16.40" height="8.40" fill="#d43a3a" />
<rect x="612.30" y="169.58" width="16.70" height="8.40" fill="#d43a3a" />
<rect x="639.30" y="190.36" width="16.40" height="8.40" fill="#d43a3a" />
<rect x="612.30" y="211.14" width="16.70" height="8.40" fill="#d43a3a" />
<rect x="639.30" y="231.92" width="16.40" height="8.40" fill="#d43a3a" />
<rect x="612.30" y="252.70" width="16.70" height="8.40" fill="#d43a3a" />
<rect x="639.30" y="273.48" width="16.40" height="8.40" fill="#d43a3a" />
<rect x="492.70" y="356.10" width="9.80" height="12.60" fill="#d43a3a" />
<rect x="518.20" y="356.10" width="9.80" height="12.60" fill="#d43a3a" />
<rect x="488.80" y="400.60" width="10.20" height="12.70" fill="#d43a3a" />
<rect x="517.60" y="400.60" width="10.70" height="12.70" fill="#d43a3a" />
<rect x="586.00" y="360.40" width="20.60" height="12.20" fill="#d43a3a" />
<rect x="586.00" y="393.10" width="20.60" height="11.80" fill="#d43a3a" />
<rect x="643.40" y="360.40" width="20.50" height="12.20" fill="#d43a3a" />
<rect x="643.40" y="393.10" width="20.50" height="11.80" fill="#d43a3a" />
</g>
<g clip-path="url(#cv)" mask="url(#mk)">
<text x="412.00" y="153.00" font-size="7.0" fill="#f3c9c9" text-anchor="middle" >3</text>
<text x="412.00" y="159.60" font-size="6.4" fill="#f3c9c9" text-anchor="middle" >D0</text>
<text x="412.00" y="173.78" font-size="7.0" fill="#f3c9c9" text-anchor="middle" >2</text>
<text x="412.00" y="180.38" font-size="6.4" fill="#f3c9c9" text-anchor="middle" >D1</text>
<text x="412.00" y="194.56" font-size="7.0" fill="#f3c9c9" text-anchor="middle" >1</text>
<text x="412.00" y="201.16" font-size="6.4" fill="#f3c9c9" text-anchor="middle" >D2</text>
<text x="412.00" y="217.90" font-size="7.0" fill="#f3c9c9" text-anchor="middle" >7</text>
<text x="412.00" y="224.50" font-size="6.4" fill="#f3c9c9" text-anchor="middle" >D3</text>
<text x="412.00" y="238.68" font-size="7.0" fill="#f3c9c9" text-anchor="middle" >6</text>
<text x="412.00" y="245.28" font-size="6.4" fill="#f3c9c9" text-anchor="middle" >SDA</text>
<text x="412.00" y="259.46" font-size="7.0" fill="#f3c9c9" text-anchor="middle" >5</text>
<text x="412.00" y="266.06" font-size="6.4" fill="#f3c9c9" text-anchor="middle" >SCL</text>
<text x="412.00" y="280.24" font-size="7.0" fill="#f3c9c9" text-anchor="middle" >4</text>
<text x="412.00" y="286.84" font-size="6.4" fill="#f3c9c9" text-anchor="middle" >D6</text>
<text x="412.00" y="301.02" font-size="7.0" fill="#f3c9c9" text-anchor="middle" >3</text>
<text x="412.00" y="307.62" font-size="4.9" fill="#f3c9c9" text-anchor="middle" textLength="18.20" lengthAdjust="spacingAndGlyphs" >PWR_3V3</text>
<text x="412.00" y="321.80" font-size="7.0" fill="#f3c9c9" text-anchor="middle" >2</text>
<text x="412.00" y="328.40" font-size="4.9" fill="#f3c9c9" text-anchor="middle" textLength="16.50" lengthAdjust="spacingAndGlyphs" >PWR_5V</text>
<text x="412.00" y="342.58" font-size="7.0" fill="#f3c9c9" text-anchor="middle" >1</text>
<text x="412.00" y="349.18" font-size="4.9" fill="#f3c9c9" text-anchor="middle" textLength="18.20" lengthAdjust="spacingAndGlyphs" >PWR_GND</text>
<text x="739.75" y="152.00" font-size="7.0" fill="#f3c9c9" text-anchor="middle" >1</text>
<text x="739.75" y="158.60" font-size="4.9" fill="#f3c9c9" text-anchor="middle" textLength="16.50" lengthAdjust="spacingAndGlyphs" >PWR_5V</text>
<text x="739.75" y="172.78" font-size="7.0" fill="#f3c9c9" text-anchor="middle" >2</text>
<text x="739.75" y="179.38" font-size="4.9" fill="#f3c9c9" text-anchor="middle" textLength="18.20" lengthAdjust="spacingAndGlyphs" >PWR_GND</text>
<text x="739.75" y="193.56" font-size="7.0" fill="#f3c9c9" text-anchor="middle" >3</text>
<text x="739.75" y="200.16" font-size="4.9" fill="#f3c9c9" text-anchor="middle" textLength="18.20" lengthAdjust="spacingAndGlyphs" >PWR_3V3</text>
<text x="739.75" y="214.34" font-size="7.0" fill="#f3c9c9" text-anchor="middle" >4</text>
<text x="739.75" y="220.94" font-size="6.4" fill="#f3c9c9" text-anchor="middle" >D10</text>
<text x="739.75" y="235.12" font-size="7.0" fill="#f3c9c9" text-anchor="middle" >5</text>
<text x="739.75" y="241.72" font-size="6.4" fill="#f3c9c9" text-anchor="middle" >D9</text>
<text x="739.75" y="255.90" font-size="7.0" fill="#f3c9c9" text-anchor="middle" >6</text>
<text x="739.75" y="262.50" font-size="6.4" fill="#f3c9c9" text-anchor="middle" >D8</text>
<text x="739.75" y="276.68" font-size="7.0" fill="#f3c9c9" text-anchor="middle" >7</text>
<text x="739.75" y="283.28" font-size="6.4" fill="#f3c9c9" text-anchor="middle" >D7</text>
<text x="739.75" y="324.60" font-size="7.0" fill="#f3c9c9" text-anchor="middle" >1</text>
<text x="739.75" y="331.20" font-size="4.9" fill="#f3c9c9" text-anchor="middle" textLength="18.20" lengthAdjust="spacingAndGlyphs" >PWR_GND</text>
<text x="739.75" y="345.38" font-size="7.0" fill="#f3c9c9" text-anchor="middle" >2</text>
<text x="739.75" y="351.98" font-size="6.4" fill="#f3c9c9" text-anchor="middle" >D9</text>
<text x="739.75" y="366.16" font-size="7.0" fill="#f3c9c9" text-anchor="middle" >3</text>
<text x="739.75" y="372.76" font-size="4.9" fill="#f3c9c9" text-anchor="middle" textLength="16.50" lengthAdjust="spacingAndGlyphs" >PWR_5V</text>
<text x="739.75" y="422.50" font-size="7.0" fill="#f3c9c9" text-anchor="middle" >1</text>
<text x="739.75" y="429.10" font-size="6.4" fill="#f3c9c9" text-anchor="middle" >D8</text>
<text x="739.75" y="443.28" font-size="7.0" fill="#f3c9c9" text-anchor="middle" >2</text>
<text x="739.75" y="449.88" font-size="4.9" fill="#f3c9c9" text-anchor="middle" textLength="16.50" lengthAdjust="spacingAndGlyphs" >PWR_5V</text>
<text x="739.75" y="464.06" font-size="7.0" fill="#f3c9c9" text-anchor="middle" >3</text>
<text x="739.75" y="470.66" font-size="4.9" fill="#f3c9c9" text-anchor="middle" textLength="18.20" lengthAdjust="spacingAndGlyphs" >PWR_GND</text>
<text x="495.90" y="152.60" font-size="3.2" fill="#f3c9c9" text-anchor="middle" >1</text>
<text x="495.90" y="156.10" font-size="3.0" fill="#f3c9c9" text-anchor="middle" >D0</text>
<text x="522.80" y="173.38" font-size="3.2" fill="#f3c9c9" text-anchor="middle" >2</text>
<text x="522.80" y="176.88" font-size="3.0" fill="#f3c9c9" text-anchor="middle" >D1</text>
<text x="495.90" y="194.16" font-size="3.2" fill="#f3c9c9" text-anchor="middle" >3</text>
<text x="495.90" y="197.66" font-size="3.0" fill="#f3c9c9" text-anchor="middle" >D2</text>
<text x="522.80" y="214.94" font-size="3.2" fill="#f3c9c9" text-anchor="middle" >4</text>
<text x="522.80" y="218.44" font-size="3.0" fill="#f3c9c9" text-anchor="middle" >D3</text>
<text x="495.90" y="235.72" font-size="3.2" fill="#f3c9c9" text-anchor="middle" >5</text>
<text x="495.90" y="239.22" font-size="3.0" fill="#f3c9c9" text-anchor="middle" >SDA</text>
<text x="522.80" y="256.50" font-size="3.2" fill="#f3c9c9" text-anchor="middle" >6</text>
<text x="522.80" y="260.00" font-size="3.0" fill="#f3c9c9" text-anchor="middle" >SCL</text>
<text x="495.90" y="277.28" font-size="3.2" fill="#f3c9c9" text-anchor="middle" >7</text>
<text x="495.90" y="280.78" font-size="3.0" fill="#f3c9c9" text-anchor="middle" >D6</text>
<text x="647.50" y="152.60" font-size="3.2" fill="#f3c9c9" text-anchor="middle" >14</text>
<text x="647.50" y="156.10" font-size="3.0" fill="#f3c9c9" text-anchor="middle" textLength="10.50" lengthAdjust="spacingAndGlyphs" >PWR_5V</text>
<text x="620.65" y="173.38" font-size="3.2" fill="#f3c9c9" text-anchor="middle" >13</text>
<text x="620.65" y="176.88" font-size="3.0" fill="#f3c9c9" text-anchor="middle" textLength="12.00" lengthAdjust="spacingAndGlyphs" >PWR_GND</text>
<text x="647.50" y="194.16" font-size="3.2" fill="#f3c9c9" text-anchor="middle" >12</text>
<text x="647.50" y="197.66" font-size="3.0" fill="#f3c9c9" text-anchor="middle" textLength="12.00" lengthAdjust="spacingAndGlyphs" >PWR_3V3</text>
<text x="620.65" y="214.94" font-size="3.2" fill="#f3c9c9" text-anchor="middle" >11</text>
<text x="620.65" y="218.44" font-size="3.0" fill="#f3c9c9" text-anchor="middle" >D10</text>
<text x="647.50" y="235.72" font-size="3.2" fill="#f3c9c9" text-anchor="middle" >10</text>
<text x="647.50" y="239.22" font-size="3.0" fill="#f3c9c9" text-anchor="middle" >D9</text>
<text x="620.65" y="256.50" font-size="3.2" fill="#f3c9c9" text-anchor="middle" >9</text>
<text x="620.65" y="260.00" font-size="3.0" fill="#f3c9c9" text-anchor="middle" >D8</text>
<text x="647.50" y="277.28" font-size="3.2" fill="#f3c9c9" text-anchor="middle" >8</text>
<text x="647.50" y="280.78" font-size="3.0" fill="#f3c9c9" text-anchor="middle" >D7</text>
<text x="495.40" y="364.20" font-size="4.2" fill="#f3c9c9" text-anchor="middle" transform="rotate(-90 496.4 362.4)">1</text>
<text x="500.00" y="364.20" font-size="4.2" fill="#f3c9c9" text-anchor="middle" transform="rotate(-90 500.0 362.4)">~</text>
<text x="520.90" y="364.20" font-size="4.2" fill="#f3c9c9" text-anchor="middle" transform="rotate(-90 521.9 362.4)">2</text>
<text x="525.50" y="364.20" font-size="4.2" fill="#f3c9c9" text-anchor="middle" transform="rotate(-90 525.5 362.4)">~</text>
<rect x="542.20" y="356.10" width="9.60" height="12.60" fill="#d43a3a" />
<rect x="567.00" y="356.10" width="10.30" height="12.60" fill="#d43a3a" />
<text x="544.80" y="364.20" font-size="4.2" fill="#f3c9c9" text-anchor="middle" transform="rotate(-90 545.8 362.4)">1</text>
<text x="549.40" y="364.20" font-size="4.2" fill="#f3c9c9" text-anchor="middle" transform="rotate(-90 549.4 362.4)">~</text>
<text x="569.95" y="364.20" font-size="4.2" fill="#f3c9c9" text-anchor="middle" transform="rotate(-90 570.9 362.4)">2</text>
<text x="574.55" y="364.20" font-size="4.2" fill="#f3c9c9" text-anchor="middle" transform="rotate(-90 574.5 362.4)">~</text>
<text x="491.70" y="408.70" font-size="4.2" fill="#f3c9c9" text-anchor="middle" transform="rotate(-90 492.7 406.9)">1</text>
<text x="496.30" y="408.70" font-size="4.2" fill="#f3c9c9" text-anchor="middle" transform="rotate(-90 496.3 406.9)">~</text>
<text x="520.75" y="408.70" font-size="4.2" fill="#f3c9c9" text-anchor="middle" transform="rotate(-90 521.8 406.9)">2</text>
<text x="525.35" y="408.70" font-size="4.2" fill="#f3c9c9" text-anchor="middle" transform="rotate(-90 525.4 406.9)">~</text>
<text x="596.30" y="365.60" font-size="7.0" fill="#f3c9c9" text-anchor="middle" >1</text>
<text x="596.30" y="372.20" font-size="6.4" fill="#f3c9c9" text-anchor="middle" >D7</text>
<text x="596.30" y="398.10" font-size="7.0" fill="#f3c9c9" text-anchor="middle" >2</text>
<text x="596.30" y="404.70" font-size="4.9" fill="#f3c9c9" text-anchor="middle" textLength="18.20" lengthAdjust="spacingAndGlyphs" >PWR_3V3</text>
<text x="653.65" y="365.60" font-size="7.0" fill="#f3c9c9" text-anchor="middle" >1</text>
<text x="653.65" y="372.20" font-size="6.4" fill="#f3c9c9" text-anchor="middle" >D7</text>
<text x="653.65" y="398.10" font-size="7.0" fill="#f3c9c9" text-anchor="middle" >2</text>
<text x="653.65" y="404.70" font-size="4.9" fill="#f3c9c9" text-anchor="middle" textLength="18.20" lengthAdjust="spacingAndGlyphs" >PWR_3V3</text>
</g>
<g clip-path="url(#all)" mask="url(#mk)">
<rect x="4.20" y="-1.00" width="130.60" height="15.80" fill="#cbe1f5" stroke="#8fbde6" stroke-width="0.9" />
<path d="M126.1,6.7L128.7,9.3L131.3,6.7" fill="none" stroke="#5a5a5a" stroke-width="0.9" />
<rect x="136.60" y="-1.00" width="23.40" height="20.20" fill="#cbe1f5" stroke="#a9cdee" stroke-width="0.8" />
<path d="M140.3,-1V11.2Q140.3,14.4 143.5,14.4H152.8Q156,14.4 156,11.2V-1" fill="none" stroke="#444444" stroke-width="1.2" />
<line x1="144.60" y1="5.30" x2="152.00" y2="5.30" stroke="#444444" stroke-width="1.0" />
<line x1="144.60" y1="7.80" x2="152.00" y2="7.80" stroke="#444444" stroke-width="1.0" />
<circle cx="148.1" cy="14.5" r="2.2" fill="#1a7fc4"/>
<line x1="161.80" y1="0.00" x2="161.80" y2="17.00" stroke="#dadada" stroke-width="0.8" />
<rect x="163.70" y="-1.00" width="110.90" height="15.50" fill="#ffffff" stroke="#e2e2e2" stroke-width="0.9" />
<path d="M265.8,6.7L268.4,9.3L271.0,6.7" fill="none" stroke="#5a5a5a" stroke-width="0.9" />
<line x1="277.30" y1="0.00" x2="277.30" y2="17.00" stroke="#d6d6d6" stroke-width="0.8" />
<rect x="279.60" y="-1.00" width="87.90" height="15.50" fill="#ffffff" stroke="#e2e2e2" stroke-width="0.9" />
<rect x="283.70" y="3.40" width="8.20" height="8.00" fill="#d22f2f" stroke="#b84a4a" stroke-width="0.6" />
<path d="M358.4,6.7L361.0,9.3L363.6,6.7" fill="none" stroke="#5a5a5a" stroke-width="0.9" />
<path d="M372,0H384.2L376.4,16.4H372Z" fill="#d6322f" />
<path d="M386.2,0H390.3V16.4H378.4Z" fill="#3d7fd0" />
<path d="M385.2,0L377.4,16.4" fill="none" stroke="#e9b9c0" stroke-width="1.0" />
<line x1="394.60" y1="0.00" x2="394.60" y2="17.00" stroke="#d0d0d0" stroke-width="0.8" />
<rect x="396.60" y="-1.00" width="125.00" height="15.50" fill="#ffffff" stroke="#e2e2e2" stroke-width="0.9" />
<path d="M511.9,6.7L514.5,9.3L517.1,6.7" fill="none" stroke="#5a5a5a" stroke-width="0.9" />
<line x1="523.30" y1="0.00" x2="523.30" y2="17.00" stroke="#d0d0d0" stroke-width="0.8" />
<rect x="525.00" y="-1.00" width="70.20" height="15.50" fill="#ffffff" stroke="#e2e2e2" stroke-width="0.9" />
<path d="M586.2,6.7L588.8,9.3L591.4,6.7" fill="none" stroke="#5a5a5a" stroke-width="0.9" />
<line x1="26.00" y1="21.00" x2="26.00" y2="511.00" stroke="#fafafa" stroke-width="0.9" />
<rect x="1.70" y="24.90" width="22.90" height="22.90" fill="#bfdaf4" stroke="#8fbfe9" stroke-width="0.9" />
<rect x="1.70" y="49.00" width="22.90" height="23.50" fill="#bfdaf4" stroke="#8fbfe9" stroke-width="0.9" />
<path d="M4,71L10,65.5" fill="none" stroke="#444444" stroke-width="1.0" />
<path d="M9,68.4H23" fill="none" stroke="#1a7fc4" stroke-width="1.2" stroke-dasharray="1.2 1.2"/>
<path d="M5.6,79V92.6H21.5" fill="none" stroke="#444444" stroke-width="1.1" />
<path d="M5.6,77.2L4,80.4H7.2Z M23.2,92.6L20,91V94.2Z" fill="#444444" />
<path d="M6,92.2L19.5,79.5" fill="none" stroke="#444444" stroke-width="1.0" />
<circle cx="20.2" cy="78.6" r="1.5" fill="#d0283c"/>
<path d="M9.4,89Q11.4,90.4 11.2,92.6" fill="none" stroke="#444444" stroke-width="0.8" />
<path d="M6,114.2H21" fill="none" stroke="#444444" stroke-width="1.2" />
<path d="M4.4,114.2L8,112.2V116.2Z M22.6,114.2L19,112.2V116.2Z" fill="#444444" />
<path d="M6,139.2H21" fill="none" stroke="#444444" stroke-width="1.2" />
<path d="M4.4,139.2L8,137.2V141.2Z M22.6,139.2L19,137.2V141.2Z" fill="#444444" />
<rect x="1.70" y="147.80" width="22.90" height="22.80" fill="#bfdaf4" stroke="#8fbfe9" stroke-width="0.9" />
<path d="M6,163.3H21" fill="none" stroke="#3a4a5a" stroke-width="1.3" />
<path d="M4.2,163.3L8,161.2V165.4Z M22.8,163.3L19,161.2V165.4Z" fill="#3a4a5a" />
<rect x="1.70" y="172.00" width="22.90" height="23.60" fill="#bfdaf4" stroke="#8fbfe9" stroke-width="0.9" />
<line x1="13.60" y1="174.50" x2="13.60" y2="193.00" stroke="#b6cde0" stroke-width="0.7" />
<line x1="3.50" y1="184.20" x2="24.00" y2="184.20" stroke="#b6cde0" stroke-width="0.7" />
<path d="M13.4,180.2V188.2M9.6,184.2H17.4" fill="none" stroke="#1a7fc4" stroke-width="1.8" />
<path d="M13.6,185.4L13.8,193.2L15.8,191.2L17.4,194.4L18.8,193.7L17.3,190.6L19.8,190.4Z" fill="#4a4a4a" />
<line x1="2.50" y1="197.30" x2="24.50" y2="197.30" stroke="#d4d4d4" stroke-width="0.9" />
<path d="M7.4,203.6V218.2M5,218.2H21.4" fill="none" stroke="#444444" stroke-width="1.5" />
<path d="M7.4,218.2L19.2,206.4" fill="none" stroke="#444444" stroke-width="1.3" />
<path d="M7.4,212.8H12.8V218.2" fill="none" stroke="#444444" stroke-width="1.0" />
<line x1="2.50" y1="224.70" x2="24.50" y2="224.70" stroke="#d4d4d4" stroke-width="0.9" />
<rect x="1.70" y="227.80" width="22.90" height="23.50" fill="#bfdaf4" stroke="#8fbfe9" stroke-width="0.9" />
<path d="M8,235.4L19.5,245.2M8.2,245.2L18,236.2M8,235.4L20.8,237.4" fill="none" stroke="#444444" stroke-width="0.9" />
<circle cx="7.8" cy="235.2" r="1.9" fill="#ffffff" stroke="#444444" stroke-width="0.8"/>
<circle cx="18.2" cy="236.0" r="1.9" fill="#ffffff" stroke="#444444" stroke-width="0.8"/>
<circle cx="8.2" cy="245.4" r="1.9" fill="#ffffff" stroke="#444444" stroke-width="0.8"/>
<circle cx="19.0" cy="245.2" r="1.9" fill="#ffffff" stroke="#444444" stroke-width="0.8"/>
<path d="M4.4,273L21.8,255.4" fill="none" stroke="#444444" stroke-width="1.0" />
<path d="M7,263.6Q9.6,259 13.4,258" fill="none" stroke="#444444" stroke-width="0.9" />
<path d="M12.6,270.6Q17.6,269.8 19.6,264.2" fill="none" stroke="#444444" stroke-width="0.9" />
<circle cx="6.4" cy="265.2" r="1.6" fill="#f0f0f0" stroke="#444444" stroke-width="0.8"/>
<circle cx="14.6" cy="257.4" r="1.6" fill="#f0f0f0" stroke="#444444" stroke-width="0.8"/>
<circle cx="11.2" cy="271.0" r="1.6" fill="#f0f0f0" stroke="#444444" stroke-width="0.8"/>
<circle cx="20.0" cy="262.6" r="1.6" fill="#f0f0f0" stroke="#444444" stroke-width="0.8"/>
<line x1="2.50" y1="277.60" x2="24.50" y2="277.60" stroke="#d4d4d4" stroke-width="0.9" />
<path d="M4.6,284.6L9.4,288.6H15.2L21.8,295.2" fill="none" stroke="#303030" stroke-width="1.3" />
<path d="M8.6,283.4L13.2,287.2H17.6L22.6,292" fill="none" stroke="#b0203a" stroke-width="1.3" />
<path d="M4.6,291.6L9.2,295.6H14.8L20.4,300.6" fill="none" stroke="#303030" stroke-width="1.3" />
<path d="M12.4,291.2H16.6L22.6,297.4" fill="none" stroke="#b0203a" stroke-width="1.3" />
<circle cx="11.2" cy="291.6" r="2.1" fill="#f7c23c" stroke="#e0901a" stroke-width="0.9"/>
<path d="M4.4,310.8H10.2L12.8,313.4V325.6" fill="none" stroke="#c9d0dc" stroke-width="1.2" />
<path d="M15,308.2L19.6,312.8V325.4" fill="none" stroke="#c9ccd2" stroke-width="1.2" />
<path d="M16.4,313.6V325.4" fill="none" stroke="#c9ccd2" stroke-width="1.2" />
<path d="M9.4,319V325.6" fill="none" stroke="#eab0b8" stroke-width="1.3" />
<path d="M11.4,316.6H22.8" fill="none" stroke="#a9d0ee" stroke-width="1.8" />
<circle cx="9.4" cy="316.4" r="2.2" fill="#fbe8d0" stroke="#f0c79a" stroke-width="0.9"/>
<line x1="2.50" y1="330.20" x2="24.50" y2="330.20" stroke="#d4d4d4" stroke-width="0.9" />
<path d="M10.6,336.6H20.8V342.6H18.4V346H20.8V351.4H6.2V345.4H10.6Z" fill="#2496dd" />
<circle cx="16.2" cy="344.2" r="2.3" fill="#f0f0f0"/>
<path d="M16.2,344.2H20.6" fill="none" stroke="#3a3a3a" stroke-width="1.6" />
<rect x="1.70" y="357.60" width="22.90" height="22.60" fill="#bfdaf4" stroke="#8fbfe9" stroke-width="0.9" />
<path d="M10.8,362H21.4V377H6.4V369.6H10.8Z" fill="none" stroke="#2a78c0" stroke-width="1.2" stroke-dasharray="1.1 1.7"/>
<path d="M16.6,368.4H20.8" fill="none" stroke="#3a3a3a" stroke-width="1.5" />
<circle cx="16.8" cy="368.4" r="1.2" fill="#3a3a3a"/>
<line x1="2.50" y1="382.40" x2="24.50" y2="382.40" stroke="#dcdcdc" stroke-width="0.8" />
<path d="M5,392.6V397Q7,397.6 7,399Q7,400.4 5,401V404.2H22.6V392.6" fill="none" stroke="#444444" stroke-width="0.9" />
<rect x="8.00" y="388.60" width="3.60" height="3.80" fill="#1f78c0" />
<rect x="8.00" y="402.80" width="3.80" height="3.80" fill="#f0f0f0" stroke="#1f78c0" stroke-width="0.6" />
<rect x="12.60" y="388.60" width="3.60" height="3.80" fill="#1f78c0" />
<rect x="12.60" y="402.80" width="3.80" height="3.80" fill="#f0f0f0" stroke="#1f78c0" stroke-width="0.6" />
<rect x="17.20" y="388.60" width="3.60" height="3.80" fill="#1f78c0" />
<rect x="17.20" y="402.80" width="3.80" height="3.80" fill="#f0f0f0" stroke="#1f78c0" stroke-width="0.6" />
<path d="M4.6,406.4L23,388.4" fill="none" stroke="#444444" stroke-width="1.0" />
<circle cx="13" cy="421.6" r="6.2" fill="none" stroke="#cfcfcf" stroke-width="0.9"/>
<circle cx="13" cy="421.6" r="2.6" fill="none" stroke="#cfcfcf" stroke-width="0.8"/>
<path d="M6.6,423.8A6.6,6.6 0 0 1 17.4,416.6L14.8,419.4A2.8,2.8 0 0 0 10.2,422.4Z" fill="#f09a14" />
<path d="M4.4,430.4L22.8,412.6" fill="none" stroke="#444444" stroke-width="1.0" />
<path d="M12.4,439.4V454.6M15.2,445V454.6" fill="none" stroke="#c02a48" stroke-width="1.4" />
<rect x="11.3" y="437.4" width="2.4" height="9" rx="1.2" fill="#c02a48"/>
<path d="M5.4,446.4H12" fill="none" stroke="#1f78c0" stroke-width="2.6" stroke-linecap="round"/>
<path d="M15.4,445.6H22.8M15.4,447.8H22.8" fill="none" stroke="#6ea8da" stroke-width="0.8" />
<path d="M4.4,455L22.8,437.2" fill="none" stroke="#444444" stroke-width="1.0" />
<line x1="2.50" y1="459.40" x2="24.50" y2="459.40" stroke="#d4d4d4" stroke-width="0.9" />
<rect x="1.70" y="462.40" width="22.90" height="23.40" fill="#bfdaf4" stroke="#8fbfe9" stroke-width="0.9" />
<path d="M13.6,471.4L20.6,476.6L13.6,482.6L6.6,476.6Z" fill="#e2a32c" />
<path d="M13.6,466.2L20.8,472.2L13.6,478.4L6.4,472.2Z" fill="#1f78c0" />
<path d="M7.8,505.6L19.4,493.2" fill="none" stroke="#3c3c3c" stroke-width="1.2" />
<path d="M17.6,494.8L20.2,491.2L21.8,492.6L19,496Z" fill="#3c3c3c" />
<path d="M9.2,494.6L19.6,505.4" fill="none" stroke="#1f78c0" stroke-width="2.8" stroke-linecap="round"/>
<path d="M10.6,491.2A3.6,3.6 0 1 0 11.6,497.4" fill="none" stroke="#1f78c0" stroke-width="2.0" />
<rect x="987.30" y="24.90" width="23.50" height="22.70" fill="#bfdaf4" stroke="#8fbfe9" stroke-width="0.9" />
<path d="M995.2,30.4L995.4,41.2L998,38.8L999.8,42.6L1001.6,41.8L999.8,38.2L1003.2,37.8Z" fill="#4a4a4a" />
<path d="M989.6,52.6L1008,70.4M1008,52.6L989.6,70.4" fill="none" stroke="#444444" stroke-width="0.9" />
<rect x="997.20" y="59.60" width="3.40" height="3.40" fill="#f0f0f0" stroke="#444444" stroke-width="0.8" />
<line x1="987.50" y1="74.80" x2="1010.50" y2="74.80" stroke="#d4d4d4" stroke-width="0.9" />
<path d="M991,84.2V87.2Q992.8,87.8 992.8,88.9Q992.8,90 991,90.6V93.4H1007.6V84.2Z" fill="#f0f0f0" stroke="#444444" stroke-width="0.9" />
<rect x="992.60" y="79.60" width="3.80" height="4.20" fill="#1f78c0" />
<rect x="992.60" y="93.20" width="3.80" height="4.20" fill="#1f78c0" />
<rect x="997.40" y="79.60" width="3.80" height="4.20" fill="#1f78c0" />
<rect x="997.40" y="93.20" width="3.80" height="4.20" fill="#1f78c0" />
<rect x="1002.20" y="79.60" width="3.80" height="4.20" fill="#1f78c0" />
<rect x="1002.20" y="93.20" width="3.80" height="4.20" fill="#1f78c0" />
<path d="M990.4,137.6Q992.6,141.6 994.4,137.6V135Q996.2,130.6 998,135V138.4Q999.8,142.6 1001.6,138.4V135Q1003.4,130.6 1005.2,135V137.6Q1006.6,140.4 1008,137.6" fill="none" stroke="#1f78c0" stroke-width="1.4" />
<path d="M1011.4,144.4V148.6H1007.2Z" fill="#222" />
<circle cx="998.9" cy="162.7" r="4.2" fill="none" stroke="#f09a14" stroke-width="3.2"/>
<path d="M995.6,179.4H1006.8V185.2H1004.6V188.6H1006.8V193.8H991.4V187.6H995.6Z" fill="#1f78c0" />
<circle cx="1002.4" cy="186.8" r="2.2" fill="#f0f0f0"/>
<path d="M1002.4,186.8H1006.8" fill="none" stroke="#3a3a3a" stroke-width="1.6" />
<clipPath id="ra"><path d="M996,204H1006.8V218.8H991.4V211H996Z"/></clipPath>
<path d="M996,204H1006.8V218.8H991.4V211H996Z" fill="#f6f6f6" />
<g clip-path="url(#ra)">
<line x1="970.20" y1="204.00" x2="986.20" y2="220.00" stroke="#4a4a4a" stroke-width="1.7" />
<line x1="973.90" y1="204.00" x2="989.90" y2="220.00" stroke="#4a4a4a" stroke-width="1.7" />
<line x1="977.60" y1="204.00" x2="993.60" y2="220.00" stroke="#4a4a4a" stroke-width="1.7" />
<line x1="981.30" y1="204.00" x2="997.30" y2="220.00" stroke="#4a4a4a" stroke-width="1.7" />
<line x1="985.00" y1="204.00" x2="1001.00" y2="220.00" stroke="#4a4a4a" stroke-width="1.7" />
<line x1="988.70" y1="204.00" x2="1004.70" y2="220.00" stroke="#4a4a4a" stroke-width="1.7" />
<line x1="992.40" y1="204.00" x2="1008.40" y2="220.00" stroke="#4a4a4a" stroke-width="1.7" />
<line x1="996.10" y1="204.00" x2="1012.10" y2="220.00" stroke="#4a4a4a" stroke-width="1.7" />
<line x1="999.80" y1="204.00" x2="1015.80" y2="220.00" stroke="#4a4a4a" stroke-width="1.7" />
<line x1="1003.50" y1="204.00" x2="1019.50" y2="220.00" stroke="#4a4a4a" stroke-width="1.7" />
<line x1="1007.20" y1="204.00" x2="1023.20" y2="220.00" stroke="#4a4a4a" stroke-width="1.7" />
<line x1="1010.90" y1="204.00" x2="1026.90" y2="220.00" stroke="#4a4a4a" stroke-width="1.7" />
<line x1="1014.60" y1="204.00" x2="1030.60" y2="220.00" stroke="#4a4a4a" stroke-width="1.7" />
<line x1="1018.30" y1="204.00" x2="1034.30" y2="220.00" stroke="#4a4a4a" stroke-width="1.7" />
<line x1="1022.00" y1="204.00" x2="1038.00" y2="220.00" stroke="#4a4a4a" stroke-width="1.7" />
<line x1="1025.70" y1="204.00" x2="1041.70" y2="220.00" stroke="#4a4a4a" stroke-width="1.7" />
</g>
<line x1="987.50" y1="225.50" x2="1010.50" y2="225.50" stroke="#d4d4d4" stroke-width="0.9" />
<path d="M992,245.9L1006.3,233" fill="none" stroke="#444444" stroke-width="1.2" />
<path d="M992,271.4A14.4,14.4 0 0 1 1006.2,257" fill="none" stroke="#444444" stroke-width="1.2" />
<rect x="992.00" y="282.70" width="14.30" height="12.50" fill="#bdbdbd" stroke="#444444" stroke-width="1.2" />
<circle cx="998.9" cy="313" r="6.6" fill="#bdbdbd" stroke="#444444" stroke-width="1.2"/>
<path d="M992.8,331.4L1006,333.2L1005,341.3L993.3,345L997,338.3Z" fill="#bdbdbd" stroke="#444444" stroke-width="1.2" stroke-linejoin="round"/>
<path d="M993.6,369.6C993.6,360 1004.6,364.4 1004.6,354.8" fill="none" stroke="#444444" stroke-width="1.2" />
<path d="M990.4,362.2H1007.4" fill="none" stroke="#1f78c0" stroke-width="0.9" />
<circle cx="999" cy="362.2" r="1.5" fill="#f0f0f0" stroke="#1f78c0" stroke-width="0.8"/>
<path d="M990,362.2l1.6,-1.4v2.8Z M1007.8,362.2l-1.6,-1.4v2.8Z" fill="#1f78c0" />
<rect x="990.8" y="379.6" width="16" height="14.8" rx="2" fill="#4a4a4a"/>
<path d="M992.4,392.8L996.4,386.2L999,389.6L1001.2,387.4L1005.4,392.8Z" fill="#f4f4f4" />
<circle cx="1002.4" cy="383.6" r="1.5" fill="#f4f4f4"/>
<path d="M993.3,405.2H1005.6V407.6H1000.7V418.3H998.2V407.6H993.3Z" fill="#444444" />
<rect x="992.00" y="429.80" width="14.30" height="12.30" fill="#c9c9c9" stroke="#444444" stroke-width="1.2" />
<path d="M994.6,433.6H1003.8M994.6,436H1003.8M994.6,438.4H1001" fill="none" stroke="#444444" stroke-width="0.8" />
<rect x="990.00" y="452.40" width="17.50" height="17.20" fill="#f8f8f8" stroke="#555" stroke-width="1.0" />
<rect x="990.00" y="452.40" width="17.50" height="4.20" fill="#bdbdbd" />
<path d="M990,456.7H1007.5M990,461H1007.5M990,465.3H1007.5M995.8,452.4V469.6M1001.6,452.4V469.6" fill="none" stroke="#555" stroke-width="0.8" />
<path d="M992.5,478.9H1006.6M998.9,491.9H1006.6" fill="none" stroke="#8a8a8a" stroke-width="0.9" />
<path d="M1005.5,480.6V490.2" fill="none" stroke="#333" stroke-width="0.8" />
<path d="M1005.5,479.6l-1.2,2.2h2.4Z M1005.5,491.2l-1.2,-2.2h2.4Z" fill="#333" />
<circle cx="992.4" cy="478.9" r="2.1" fill="#1f78c0"/>
<circle cx="999.0" cy="491.9" r="2.1" fill="#1f78c0"/>
<path d="M1010.5,492V496.6H1005.9Z" fill="#222" />
<path d="M994,503L994.2,512L1003,511Z" fill="#4a4a4a" />
<circle cx="1002.6" cy="510.8" r="3" fill="#c8283c"/>
<path d="M981.2,108C981,104 983,101.6 986,100.6C990,98.6 996,98.6 1001,99.2C1006,99.8 1012,100.2 1016.4,101.4C1020.4,102.6 1021.4,106 1021.4,110V122C1021.4,127 1019.6,130.4 1015.6,131.6C1009,132.8 998,132.6 991,131.8C987,131.2 985.4,129.6 984.2,127.6C982,126 981.2,120 981.2,114Z" fill="#2fd715" />
<clipPath id="gc"><rect x="970" y="90" width="15.9" height="50"/></clipPath>
<path d="M981.2,108C981,104 983,101.6 986,100.6V131C984,129 982,126 981.2,120Z" fill="#011303" clip-path="url(#gc)"/>
<path d="M990.8,121L994.8,113.4H1002.2L1006.6,105.6" fill="none" stroke="#123a12" stroke-width="1.2" />
<path d="M1010.6,120.6V125.2H1006Z" fill="#0a1a0a" />
<rect x="4.20" y="15.20" width="130.60" height="50.00" fill="#ffffff" stroke="#6e6e6e" stroke-width="0.8" />
<rect x="4.70" y="28.30" width="129.60" height="11.80" fill="#0078d7" />
</g>
<g mask="url(#mk)">
<text x="5.60" y="11.40" font-size="9.3" fill="#101010" text-anchor="start" textLength="113.00" lengthAdjust="spacingAndGlyphs" >Track: 0,500 mm (19,69 mils)</text>
<text x="166.00" y="11.40" font-size="9.3" fill="#101010" text-anchor="start" textLength="86.40" lengthAdjust="spacingAndGlyphs" >Via: use netclass sizes</text>
<text x="295.60" y="11.40" font-size="9.3" fill="#101010" text-anchor="start" textLength="47.40" lengthAdjust="spacingAndGlyphs" >F.Cu (PgUp)</text>
<text x="398.70" y="11.40" font-size="9.3" fill="#101010" text-anchor="start" textLength="92.30" lengthAdjust="spacingAndGlyphs" >0,5000 mm (19,69 mils)</text>
<text x="527.00" y="11.40" font-size="9.3" fill="#101010" text-anchor="start" textLength="43.30" lengthAdjust="spacingAndGlyphs" >Zoom 8,00</text>
<text x="8.20" y="85.00" font-size="8" fill="#444444" text-anchor="start" font-style="italic">r</text>
<text x="14.20" y="92.00" font-size="8.6" fill="#444444" text-anchor="start" font-style="italic">θ</text>
<text x="13.60" y="110.60" font-size="9.6" fill="#444444" text-anchor="middle" textLength="8.20" lengthAdjust="spacingAndGlyphs" >in</text>
<text x="13.60" y="135.80" font-size="9.6" fill="#444444" text-anchor="middle" textLength="12.60" lengthAdjust="spacingAndGlyphs" >mil</text>
<text x="13.60" y="159.60" font-size="9.6" fill="#3a4a5a" text-anchor="middle" textLength="16.00" lengthAdjust="spacingAndGlyphs" >mm</text>
<text x="5.50" y="25.60" font-size="9.3" fill="#101010" text-anchor="start" textLength="98.30" lengthAdjust="spacingAndGlyphs" >Track: use netclass width</text>
<text x="5.50" y="37.70" font-size="9.3" fill="#ffffff" text-anchor="start" textLength="113.00" lengthAdjust="spacingAndGlyphs" >Track: 0,500 mm (19,69 mils)</text>
<text x="5.80" y="50.70" font-size="9.3" fill="#555" text-anchor="start" textLength="9.60" lengthAdjust="spacingAndGlyphs" >---</text>
<text x="5.50" y="63.00" font-size="9.3" fill="#101010" text-anchor="start" textLength="93.00" lengthAdjust="spacingAndGlyphs" >Edit Pre-defined Sizes...</text>
</g>
</svg></body></html>
